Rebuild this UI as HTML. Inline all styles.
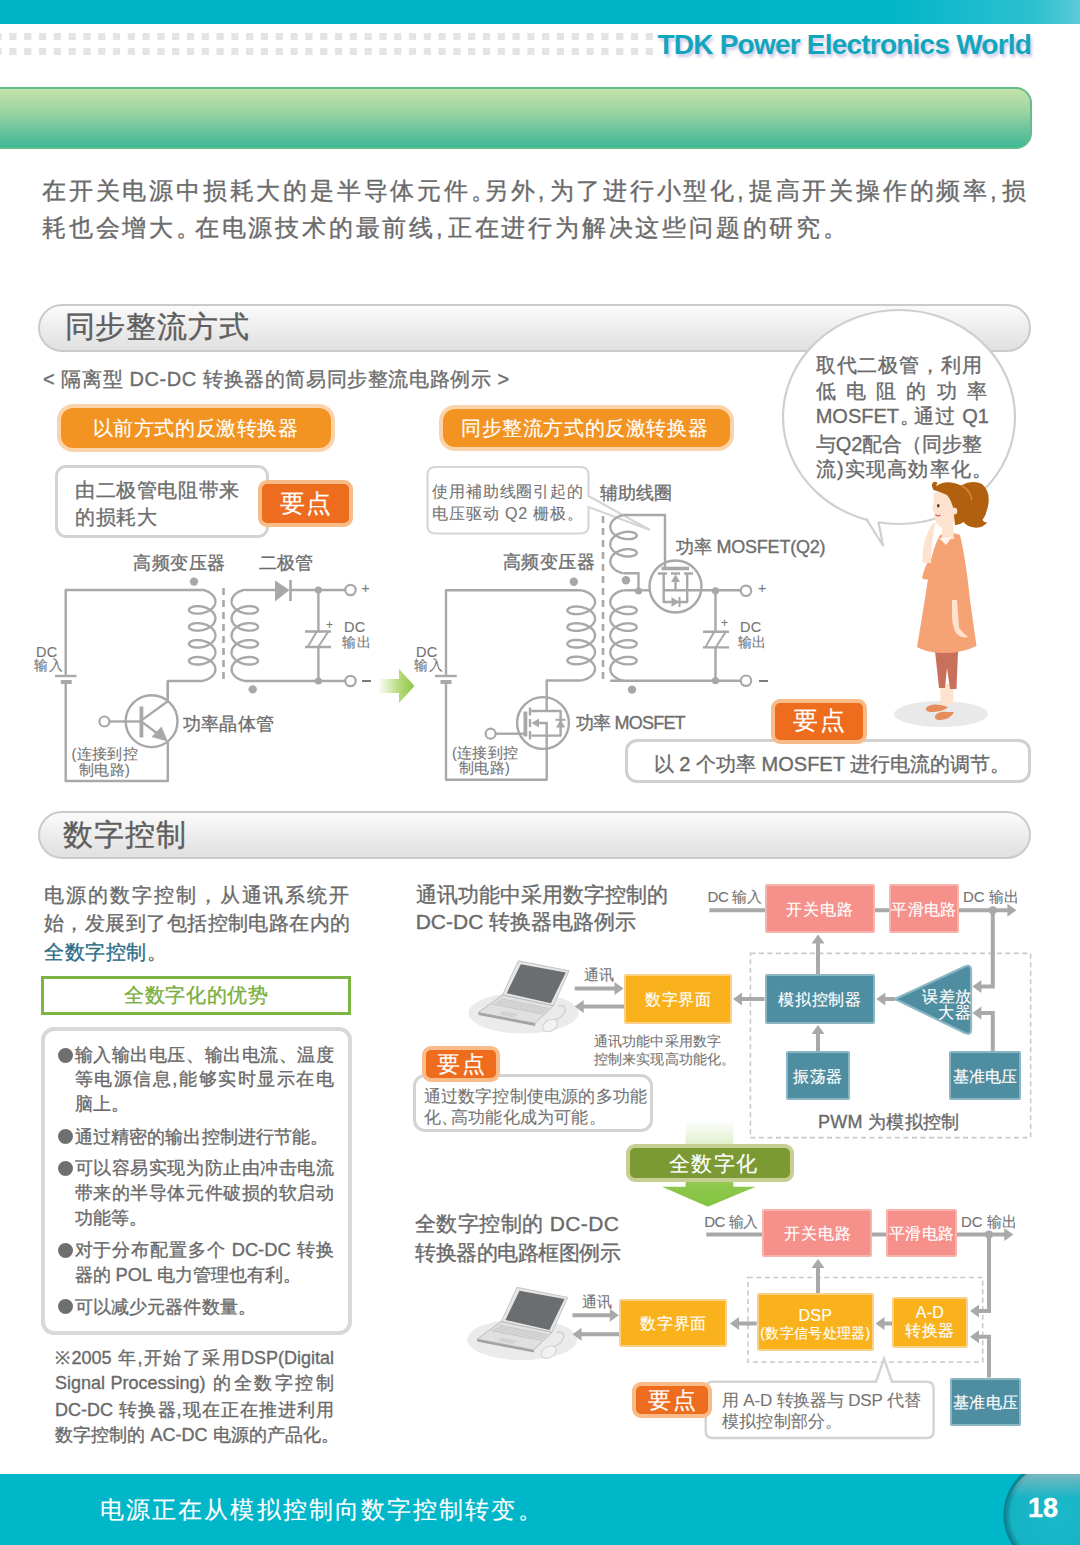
<!DOCTYPE html>
<html><head><meta charset="utf-8">
<style>
*{margin:0;padding:0;box-sizing:border-box}
html,body{width:1080px;height:1545px;overflow:hidden;background:#fff}
body{position:relative;font-family:"Liberation Sans",sans-serif;color:#707070}
.a{position:absolute;white-space:nowrap;-webkit-text-stroke:0.35px currentColor}
svg.ov{position:absolute;left:0;top:0}
</style></head><body>
<div class="a" style="left:0;top:0;width:1080px;height:24px;background:linear-gradient(90deg,#00b4c7 0%,#00b5c8 82%,#2fc0d0 96%,#5ccbd8 100%)"></div>
<svg class="ov" width="1080" height="1545"><rect x="-5.5" y="33" width="7.2" height="7" fill="#e4e4e4"/><rect x="9.3" y="33" width="7.2" height="7" fill="#e4e4e4"/><rect x="24.1" y="33" width="7.2" height="7" fill="#e4e4e4"/><rect x="38.9" y="33" width="7.2" height="7" fill="#e4e4e4"/><rect x="53.7" y="33" width="7.2" height="7" fill="#e4e4e4"/><rect x="68.5" y="33" width="7.2" height="7" fill="#e4e4e4"/><rect x="83.3" y="33" width="7.2" height="7" fill="#e4e4e4"/><rect x="98.1" y="33" width="7.2" height="7" fill="#e4e4e4"/><rect x="112.9" y="33" width="7.2" height="7" fill="#e4e4e4"/><rect x="127.7" y="33" width="7.2" height="7" fill="#e4e4e4"/><rect x="142.5" y="33" width="7.2" height="7" fill="#e4e4e4"/><rect x="157.3" y="33" width="7.2" height="7" fill="#e4e4e4"/><rect x="172.1" y="33" width="7.2" height="7" fill="#e4e4e4"/><rect x="186.9" y="33" width="7.2" height="7" fill="#e4e4e4"/><rect x="201.7" y="33" width="7.2" height="7" fill="#e4e4e4"/><rect x="216.5" y="33" width="7.2" height="7" fill="#e4e4e4"/><rect x="231.3" y="33" width="7.2" height="7" fill="#e4e4e4"/><rect x="246.1" y="33" width="7.2" height="7" fill="#e4e4e4"/><rect x="260.9" y="33" width="7.2" height="7" fill="#e4e4e4"/><rect x="275.7" y="33" width="7.2" height="7" fill="#e4e4e4"/><rect x="290.5" y="33" width="7.2" height="7" fill="#e4e4e4"/><rect x="305.3" y="33" width="7.2" height="7" fill="#e4e4e4"/><rect x="320.1" y="33" width="7.2" height="7" fill="#e4e4e4"/><rect x="334.9" y="33" width="7.2" height="7" fill="#e4e4e4"/><rect x="349.7" y="33" width="7.2" height="7" fill="#e4e4e4"/><rect x="364.5" y="33" width="7.2" height="7" fill="#e4e4e4"/><rect x="379.3" y="33" width="7.2" height="7" fill="#e4e4e4"/><rect x="394.1" y="33" width="7.2" height="7" fill="#e4e4e4"/><rect x="408.9" y="33" width="7.2" height="7" fill="#e4e4e4"/><rect x="423.7" y="33" width="7.2" height="7" fill="#e4e4e4"/><rect x="438.5" y="33" width="7.2" height="7" fill="#e4e4e4"/><rect x="453.3" y="33" width="7.2" height="7" fill="#e4e4e4"/><rect x="468.1" y="33" width="7.2" height="7" fill="#e4e4e4"/><rect x="482.9" y="33" width="7.2" height="7" fill="#e4e4e4"/><rect x="497.7" y="33" width="7.2" height="7" fill="#e4e4e4"/><rect x="512.5" y="33" width="7.2" height="7" fill="#e4e4e4"/><rect x="527.3" y="33" width="7.2" height="7" fill="#e4e4e4"/><rect x="542.1" y="33" width="7.2" height="7" fill="#e4e4e4"/><rect x="556.9" y="33" width="7.2" height="7" fill="#e4e4e4"/><rect x="571.7" y="33" width="7.2" height="7" fill="#e4e4e4"/><rect x="586.5" y="33" width="7.2" height="7" fill="#e4e4e4"/><rect x="601.3" y="33" width="7.2" height="7" fill="#e4e4e4"/><rect x="616.1" y="33" width="7.2" height="7" fill="#e4e4e4"/><rect x="630.9" y="33" width="7.2" height="7" fill="#e4e4e4"/><rect x="645.7" y="33" width="7.2" height="7" fill="#e4e4e4"/><rect x="-5.5" y="48" width="7.2" height="7" fill="#e4e4e4"/><rect x="9.3" y="48" width="7.2" height="7" fill="#e4e4e4"/><rect x="24.1" y="48" width="7.2" height="7" fill="#e4e4e4"/><rect x="38.9" y="48" width="7.2" height="7" fill="#e4e4e4"/><rect x="53.7" y="48" width="7.2" height="7" fill="#e4e4e4"/><rect x="68.5" y="48" width="7.2" height="7" fill="#e4e4e4"/><rect x="83.3" y="48" width="7.2" height="7" fill="#e4e4e4"/><rect x="98.1" y="48" width="7.2" height="7" fill="#e4e4e4"/><rect x="112.9" y="48" width="7.2" height="7" fill="#e4e4e4"/><rect x="127.7" y="48" width="7.2" height="7" fill="#e4e4e4"/><rect x="142.5" y="48" width="7.2" height="7" fill="#e4e4e4"/><rect x="157.3" y="48" width="7.2" height="7" fill="#e4e4e4"/><rect x="172.1" y="48" width="7.2" height="7" fill="#e4e4e4"/><rect x="186.9" y="48" width="7.2" height="7" fill="#e4e4e4"/><rect x="201.7" y="48" width="7.2" height="7" fill="#e4e4e4"/><rect x="216.5" y="48" width="7.2" height="7" fill="#e4e4e4"/><rect x="231.3" y="48" width="7.2" height="7" fill="#e4e4e4"/><rect x="246.1" y="48" width="7.2" height="7" fill="#e4e4e4"/><rect x="260.9" y="48" width="7.2" height="7" fill="#e4e4e4"/><rect x="275.7" y="48" width="7.2" height="7" fill="#e4e4e4"/><rect x="290.5" y="48" width="7.2" height="7" fill="#e4e4e4"/><rect x="305.3" y="48" width="7.2" height="7" fill="#e4e4e4"/><rect x="320.1" y="48" width="7.2" height="7" fill="#e4e4e4"/><rect x="334.9" y="48" width="7.2" height="7" fill="#e4e4e4"/><rect x="349.7" y="48" width="7.2" height="7" fill="#e4e4e4"/><rect x="364.5" y="48" width="7.2" height="7" fill="#e4e4e4"/><rect x="379.3" y="48" width="7.2" height="7" fill="#e4e4e4"/><rect x="394.1" y="48" width="7.2" height="7" fill="#e4e4e4"/><rect x="408.9" y="48" width="7.2" height="7" fill="#e4e4e4"/><rect x="423.7" y="48" width="7.2" height="7" fill="#e4e4e4"/><rect x="438.5" y="48" width="7.2" height="7" fill="#e4e4e4"/><rect x="453.3" y="48" width="7.2" height="7" fill="#e4e4e4"/><rect x="468.1" y="48" width="7.2" height="7" fill="#e4e4e4"/><rect x="482.9" y="48" width="7.2" height="7" fill="#e4e4e4"/><rect x="497.7" y="48" width="7.2" height="7" fill="#e4e4e4"/><rect x="512.5" y="48" width="7.2" height="7" fill="#e4e4e4"/><rect x="527.3" y="48" width="7.2" height="7" fill="#e4e4e4"/><rect x="542.1" y="48" width="7.2" height="7" fill="#e4e4e4"/><rect x="556.9" y="48" width="7.2" height="7" fill="#e4e4e4"/><rect x="571.7" y="48" width="7.2" height="7" fill="#e4e4e4"/><rect x="586.5" y="48" width="7.2" height="7" fill="#e4e4e4"/><rect x="601.3" y="48" width="7.2" height="7" fill="#e4e4e4"/><rect x="616.1" y="48" width="7.2" height="7" fill="#e4e4e4"/><rect x="630.9" y="48" width="7.2" height="7" fill="#e4e4e4"/><rect x="645.7" y="48" width="7.2" height="7" fill="#e4e4e4"/></svg>
<div class="a" style="left:657.5px;top:28.5px;font-size:28px;line-height:32px;letter-spacing:-0.78px;font-weight:bold;color:#12a6bd;-webkit-text-stroke:0;text-shadow:2px 3px 3px rgba(110,100,190,.35)">TDK Power Electronics World</div>
<div class="a" style="left:-20px;top:87px;width:1052px;height:62px;border-radius:0 16px 16px 0;border:2px solid #63bd8a;border-left:none;background:linear-gradient(180deg,#c4e3aa 0%,#9ad3a3 40%,#6cc49c 70%,#3fb996 100%)"></div>
<div class="a" style="left:42.0px;top:179.3px;font-size:24.0px;line-height:24.0px;color:#6b6b6b;letter-spacing:2.80px;">在开关电源中损耗大的是半导体元件<span style="margin-right:-13.5px">。</span>另外<span style="margin-right:2.3px">,</span>为了进行小型化<span style="margin-right:2.3px">,</span>提高开关操作的频率<span style="margin-right:2.3px">,</span>损</div>
<div class="a" style="left:42.0px;top:215.9px;font-size:24.0px;line-height:24.0px;color:#6b6b6b;letter-spacing:2.80px;">耗也会增大<span style="margin-right:-8px">。</span>在电源技术的最前线<span style="margin-right:2.3px">,</span>正在进行为解决这些问题的研究。</div>
<div class="a" style="left:38px;top:303.5px;width:993px;height:48.0px;border-radius:24px;border:2px solid #cbcbcb;background:linear-gradient(180deg,#fbfbfb 0%,#f1f1f1 35%,#e6e6e6 75%,#e1e1e1 100%)"></div>
<div class="a" style="left:64.5px;top:312.4px;font-size:30.0px;line-height:30.0px;color:#5e5e5e;letter-spacing:0.90px;">同步整流方式</div>
<div class="a" style="left:38px;top:810.5px;width:993px;height:48.0px;border-radius:24px;border:2px solid #cbcbcb;background:linear-gradient(180deg,#fbfbfb 0%,#f1f1f1 35%,#e6e6e6 75%,#e1e1e1 100%)"></div>
<div class="a" style="left:63.0px;top:819.5px;font-size:30.0px;line-height:30.0px;color:#5e5e5e;letter-spacing:0.90px;">数字控制</div>
<div class="a" style="left:0;top:1474px;width:1080px;height:71px;background:#00b6c9"></div>
<div class="a" style="left:100.0px;top:1497.9px;font-size:24.0px;line-height:24.0px;color:#ffffff;letter-spacing:2.10px;-webkit-text-stroke:0.15px currentColor;">电源正在从模拟控制向数字控制转变<span style="margin-right:-10px">。</span></div>
<svg class="ov" width="1080" height="1545"><defs><radialGradient id="pg" cx="0.5" cy="0.5" r="0.5"><stop offset="0" stop-color="#1ab8c9"/><stop offset="0.86" stop-color="#16b3c4"/><stop offset="0.93" stop-color="#0f95a4"/><stop offset="1" stop-color="#0b7a87"/></radialGradient><linearGradient id="pgt" x1="0" y1="0" x2="0" y2="1"><stop offset="0" stop-color="#9bb9bd" stop-opacity="0.75"/><stop offset="1" stop-color="#9bb9bd" stop-opacity="0"/></linearGradient></defs><circle cx="1058.5" cy="1515" r="55" fill="url(#pg)" clip-path="url(#botclip)"/><clipPath id="cclip"><circle cx="1058.5" cy="1515" r="52"/></clipPath><g clip-path="url(#botclip)"><rect x="1000" y="1474" width="80" height="24" fill="url(#pgt)" clip-path="url(#cclip)"/></g><clipPath id="botclip"><rect x="0" y="1474" width="1080" height="71"/></clipPath></svg>
<div class="a" style="left:1028px;top:1493px;font-size:27px;line-height:30px;font-weight:bold;color:#fff">18</div>
<div class="a" style="left:43.0px;top:368.5px;font-size:20.0px;line-height:20.0px;color:#6e6e6e;letter-spacing:0.60px;">&lt; 隔离型 DC-DC 转换器的简易同步整流电路例示 &gt;</div>
<div class="a" style="left:56.7px;top:404.0px;width:278.3px;height:47.7px;border-radius:16px;background:#f39322;border:4.5px solid #fbd3aa"></div>
<div class="a" style="left:92.7px;top:417.8px;font-size:20.0px;line-height:20.0px;color:#ffffff;letter-spacing:0.60px;-webkit-text-stroke:0.15px currentColor;">以前方式的反激转换器</div>
<div class="a" style="left:439.0px;top:404.8px;width:294.6px;height:46.7px;border-radius:16px;background:#f39322;border:4.5px solid #fbd3aa"></div>
<div class="a" style="left:461.0px;top:418.0px;font-size:20.0px;line-height:20.0px;color:#ffffff;letter-spacing:0.60px;-webkit-text-stroke:0.15px currentColor;">同步整流方式的反激转换器</div>
<div class="a" style="left:55.0px;top:465.0px;width:214.0px;height:73.0px;border-radius:11.0px;background:#fff;border:3.0px solid #d3d3d3"></div>
<div class="a" style="left:75.0px;top:479.9px;font-size:20.0px;line-height:20.0px;color:#6e6e6e;letter-spacing:0.60px;">由二极管电阻带来</div>
<div class="a" style="left:75.0px;top:506.6px;font-size:20.0px;line-height:20.0px;color:#6e6e6e;letter-spacing:0.60px;">的损耗大</div>
<div class="a" style="left:258.0px;top:480.0px;width:95.0px;height:46.7px;border-radius:9px;background:#ee6c1e;border:4px solid #f9bb88"></div>
<div class="a" style="left:258.0px;top:491.5px;width:95.0px;text-align:center;font-size:24.5px;line-height:24.5px;color:#ffffff;letter-spacing:1.50px;text-indent:1.50px;-webkit-text-stroke:0.15px currentColor;">要点</div>
<svg class="ov" width="1080" height="1545"><path d="M427.5 475 Q427.5 467 435.5 467 L580.5 467 Q588.5 467 588.5 475 L588.5 496 L650 530 L588.5 507 L588.5 525.5 Q588.5 533.5 580.5 533.5 L435.5 533.5 Q427.5 533.5 427.5 525.5 Z" fill="#fff" stroke="#d6d6d6" stroke-width="2.2"/></svg>
<div class="a" style="left:432.0px;top:483.9px;font-size:16.0px;line-height:16.0px;color:#747474;letter-spacing:0.90px;-webkit-text-stroke:0.1px currentColor;">使用補助线圈引起的</div>
<div class="a" style="left:432.0px;top:506.4px;font-size:16.0px;line-height:16.0px;color:#747474;letter-spacing:0.90px;-webkit-text-stroke:0.1px currentColor;">电压驱动 Q2 栅极。</div>
<div class="a" style="left:599.5px;top:485.2px;font-size:17.5px;line-height:17.5px;color:#6e6e6e;letter-spacing:0.20px;">辅助线圈</div>
<div class="a" style="left:133.0px;top:555.2px;font-size:17.5px;line-height:17.5px;color:#6e6e6e;letter-spacing:0.60px;">高频变压器</div>
<div class="a" style="left:258.6px;top:555.2px;font-size:17.5px;line-height:17.5px;color:#6e6e6e;letter-spacing:0.20px;">二极管</div>
<svg class="ov" width="1080" height="1545"><circle cx="194.0" cy="581.6" r="4.2" fill="#a8a8a8"/><circle cx="252.7" cy="689.4" r="4.2" fill="#a8a8a8"/><path d="M65.7 676 L65.7 590 L202.5 590" fill="none" stroke="#a8a8a8" stroke-width="2.40" stroke-linejoin="round" /><path d="M202.5 681 L167.8 681 L167.8 701" fill="none" stroke="#a8a8a8" stroke-width="2.40" stroke-linejoin="round" /><path d="M202.20 589.70 L202.95 589.86 L203.69 590.05 L204.43 590.27 L205.16 590.50 L205.88 590.76 L206.59 591.04 L207.29 591.35 L207.97 591.68 L208.63 592.02 L209.27 592.39 L209.89 592.78 L210.49 593.19 L211.05 593.62 L211.59 594.07 L212.10 594.53 L212.58 595.01 L213.02 595.50 L213.43 596.01 L213.81 596.53 L214.14 597.06 L214.44 597.60 L214.70 598.15 L214.92 598.71 L215.10 599.27 L215.24 599.84 L215.33 600.41 L215.39 600.99 L215.40 601.57 L215.37 602.14 L215.30 602.72 L215.18 603.29 L215.03 603.86 L214.83 604.42 L214.59 604.97 L214.31 605.52 L214.00 606.06 L213.65 606.58 L213.26 607.10 L212.83 607.60 L212.37 608.08 L211.88 608.56 L211.36 609.01 L210.80 609.45 L210.22 609.87 L209.62 610.27 L208.99 610.65 L208.34 611.01 L207.67 611.35 L206.98 611.67 L206.28 611.96 L205.56 612.24 L204.84 612.48 L204.10 612.71 L203.36 612.91 L202.61 613.09 L201.87 613.24 L201.12 613.37 L200.38 613.48 L199.65 613.56 L198.92 613.62 L198.20 613.66 L197.50 613.67 L196.81 613.66 L196.13 613.63 L195.48 613.57 L194.85 613.50 L194.24 613.41 L193.66 613.30 L193.10 613.16 L192.58 613.02 L192.08 612.85 L191.62 612.67 L191.19 612.48 L190.80 612.27 L190.44 612.05 L190.12 611.82 L189.84 611.58 L189.60 611.33 L189.39 611.07 L189.23 610.81 L189.11 610.55 L189.04 610.28 L189.00 610.01 L189.01 609.74 L189.06 609.47 L189.15 609.20 L189.28 608.93 L189.46 608.67 L189.67 608.42 L189.93 608.17 L190.22 607.94 L190.55 607.71 L190.92 607.49 L191.33 607.29 L191.77 607.10 L192.24 606.93 L192.75 606.77 L193.29 606.62 L193.85 606.50 L194.44 606.39 L195.06 606.31 L195.70 606.24 L196.36 606.19 L197.03 606.17 L197.73 606.17 L198.44 606.19 L199.16 606.23 L199.89 606.30 L200.63 606.39 L201.37 606.50 L202.12 606.64 L202.86 606.80 L203.61 606.99 L204.35 607.20 L205.08 607.43 L205.80 607.69 L206.51 607.97 L207.21 608.27 L207.90 608.59 L208.56 608.94 L209.20 609.31 L209.82 609.69 L210.42 610.10 L210.99 610.53 L211.53 610.97 L212.05 611.43 L212.53 611.91 L212.98 612.40 L213.39 612.91 L213.77 613.42 L214.11 613.95 L214.41 614.49 L214.67 615.04 L214.90 615.60 L215.08 616.16 L215.22 616.73 L215.32 617.31 L215.38 617.88 L215.40 618.46 L215.37 619.03 L215.31 619.61 L215.20 620.18 L215.04 620.75 L214.85 621.31 L214.62 621.87 L214.35 622.41 L214.04 622.95 L213.69 623.48 L213.30 624.00 L212.88 624.50 L212.42 624.99 L211.94 625.46 L211.42 625.92 L210.87 626.36 L210.29 626.78 L209.69 627.18 L209.06 627.57 L208.41 627.93 L207.75 628.27 L207.06 628.59 L206.36 628.89 L205.64 629.16 L204.92 629.41 L204.18 629.64 L203.44 629.85 L202.70 630.03 L201.95 630.18 L201.21 630.32 L200.46 630.42 L199.73 630.51 L199.00 630.57 L198.28 630.61 L197.57 630.62 L196.88 630.62 L196.21 630.59 L195.55 630.54 L194.92 630.47 L194.31 630.37 L193.72 630.26 L193.16 630.14 L192.63 629.99 L192.14 629.83 L191.67 629.65 L191.24 629.45 L190.84 629.25 L190.48 629.03 L190.15 628.80 L189.87 628.56 L189.62 628.31 L189.41 628.06 L189.25 627.80 L189.13 627.53 L189.04 627.26 L189.00 626.99 L189.01 626.72 L189.05 626.45 L189.14 626.18 L189.27 625.92 L189.44 625.66 L189.65 625.40 L189.90 625.16 L190.19 624.92 L190.51 624.69 L190.88 624.47 L191.28 624.27 L191.72 624.08 L192.19 623.90 L192.69 623.74 L193.22 623.59 L193.79 623.47 L194.37 623.36 L194.99 623.27 L195.62 623.20 L196.28 623.15 L196.96 623.13 L197.65 623.12 L198.36 623.14 L199.08 623.18 L199.81 623.24 L200.55 623.33 L201.29 623.44 L202.03 623.58 L202.78 623.74 L203.52 623.92 L204.26 624.13 L205.00 624.36 L205.72 624.61 L206.44 624.89 L207.14 625.19 L207.82 625.51 L208.49 625.86 L209.13 626.22 L209.76 626.61 L210.36 627.01 L210.93 627.44 L211.47 627.88 L211.99 628.34 L212.48 628.81 L212.93 629.30 L213.35 629.81 L213.73 630.32 L214.07 630.85 L214.38 631.39 L214.65 631.94 L214.88 632.49 L215.06 633.06 L215.21 633.63 L215.32 634.20 L215.38 634.77 L215.40 635.35 L215.38 635.93 L215.32 636.50 L215.21 637.07 L215.06 637.64 L214.88 638.21 L214.65 638.76 L214.38 639.31 L214.07 639.85 L213.73 640.38 L213.35 640.89 L212.93 641.40 L212.48 641.89 L211.99 642.36 L211.47 642.82 L210.93 643.26 L210.36 643.69 L209.76 644.09 L209.13 644.48 L208.49 644.84 L207.82 645.19 L207.14 645.51 L206.44 645.81 L205.72 646.09 L205.00 646.34 L204.26 646.57 L203.52 646.78 L202.78 646.96 L202.03 647.12 L201.29 647.26 L200.55 647.37 L199.81 647.46 L199.08 647.52 L198.36 647.56 L197.65 647.58 L196.96 647.57 L196.28 647.55 L195.62 647.50 L194.99 647.43 L194.37 647.34 L193.79 647.23 L193.22 647.11 L192.69 646.96 L192.19 646.80 L191.72 646.62 L191.28 646.43 L190.88 646.23 L190.51 646.01 L190.19 645.78 L189.90 645.54 L189.65 645.30 L189.44 645.04 L189.27 644.78 L189.14 644.52 L189.05 644.25 L189.01 643.98 L189.00 643.71 L189.04 643.44 L189.13 643.17 L189.25 642.90 L189.41 642.64 L189.62 642.39 L189.87 642.14 L190.15 641.90 L190.48 641.67 L190.84 641.45 L191.24 641.25 L191.67 641.05 L192.14 640.87 L192.63 640.71 L193.16 640.56 L193.72 640.44 L194.31 640.33 L194.92 640.23 L195.55 640.16 L196.21 640.11 L196.88 640.08 L197.57 640.08 L198.28 640.09 L199.00 640.13 L199.73 640.19 L200.46 640.28 L201.21 640.38 L201.95 640.52 L202.70 640.67 L203.44 640.85 L204.18 641.06 L204.92 641.29 L205.64 641.54 L206.36 641.81 L207.06 642.11 L207.75 642.43 L208.41 642.77 L209.06 643.13 L209.69 643.52 L210.29 643.92 L210.87 644.34 L211.42 644.78 L211.94 645.24 L212.42 645.71 L212.88 646.20 L213.30 646.70 L213.69 647.22 L214.04 647.75 L214.35 648.29 L214.62 648.83 L214.85 649.39 L215.04 649.95 L215.20 650.52 L215.31 651.09 L215.37 651.67 L215.40 652.24 L215.38 652.82 L215.32 653.39 L215.22 653.97 L215.08 654.54 L214.90 655.10 L214.67 655.66 L214.41 656.21 L214.11 656.75 L213.77 657.28 L213.39 657.79 L212.98 658.30 L212.53 658.79 L212.05 659.27 L211.53 659.73 L210.99 660.17 L210.42 660.60 L209.82 661.01 L209.20 661.39 L208.56 661.76 L207.90 662.11 L207.21 662.43 L206.51 662.73 L205.80 663.01 L205.08 663.27 L204.35 663.50 L203.61 663.71 L202.86 663.90 L202.12 664.06 L201.37 664.20 L200.63 664.31 L199.89 664.40 L199.16 664.47 L198.44 664.51 L197.73 664.53 L197.03 664.53 L196.36 664.51 L195.70 664.46 L195.06 664.39 L194.44 664.31 L193.85 664.20 L193.29 664.08 L192.75 663.93 L192.24 663.77 L191.77 663.60 L191.33 663.41 L190.92 663.21 L190.55 662.99 L190.22 662.76 L189.93 662.53 L189.67 662.28 L189.46 662.03 L189.28 661.77 L189.15 661.50 L189.06 661.23 L189.01 660.96 L189.00 660.69 L189.04 660.42 L189.11 660.15 L189.23 659.89 L189.39 659.63 L189.60 659.37 L189.84 659.12 L190.12 658.88 L190.44 658.65 L190.80 658.43 L191.19 658.22 L191.62 658.03 L192.08 657.85 L192.58 657.68 L193.10 657.54 L193.66 657.40 L194.24 657.29 L194.85 657.20 L195.48 657.13 L196.13 657.07 L196.81 657.04 L197.50 657.03 L198.20 657.04 L198.92 657.08 L199.65 657.14 L200.38 657.22 L201.12 657.33 L201.87 657.46 L202.61 657.61 L203.36 657.79 L204.10 657.99 L204.84 658.22 L205.56 658.46 L206.28 658.74 L206.98 659.03 L207.67 659.35 L208.34 659.69 L208.99 660.05 L209.62 660.43 L210.22 660.83 L210.80 661.25 L211.36 661.69 L211.88 662.14 L212.37 662.62 L212.83 663.10 L213.26 663.60 L213.65 664.12 L214.00 664.64 L214.31 665.18 L214.59 665.73 L214.83 666.28 L215.03 666.84 L215.18 667.41 L215.30 667.98 L215.37 668.56 L215.40 669.13 L215.39 669.71 L215.33 670.29 L215.24 670.86 L215.10 671.43 L214.92 671.99 L214.70 672.55 L214.44 673.10 L214.14 673.64 L213.81 674.17 L213.43 674.69 L213.02 675.20 L212.58 675.69 L212.10 676.17 L211.59 676.63 L211.05 677.08 L210.49 677.51 L209.89 677.92 L209.27 678.31 L208.63 678.68 L207.97 679.02 L207.29 679.35 L206.59 679.66 L205.88 679.94 L205.16 680.20 L204.43 680.43 L203.69 680.65 L202.95 680.84 L202.20 681.00" fill="none" stroke="#a8a8a8" stroke-width="2.40" stroke-linejoin="round" /><path d="M223.5 588 L223.5 681" fill="none" stroke="#a8a8a8" stroke-width="2.60" stroke-linejoin="round" stroke-dasharray="7 5"/><path d="M244.80 589.70 L244.05 589.86 L243.31 590.05 L242.57 590.27 L241.84 590.50 L241.12 590.76 L240.41 591.04 L239.71 591.35 L239.03 591.68 L238.37 592.02 L237.73 592.39 L237.11 592.78 L236.51 593.19 L235.95 593.62 L235.41 594.07 L234.90 594.53 L234.42 595.01 L233.98 595.50 L233.57 596.01 L233.19 596.53 L232.86 597.06 L232.56 597.60 L232.30 598.15 L232.08 598.71 L231.90 599.27 L231.76 599.84 L231.67 600.41 L231.61 600.99 L231.60 601.57 L231.63 602.14 L231.70 602.72 L231.82 603.29 L231.97 603.86 L232.17 604.42 L232.41 604.97 L232.69 605.52 L233.00 606.06 L233.35 606.58 L233.74 607.10 L234.17 607.60 L234.63 608.08 L235.12 608.56 L235.64 609.01 L236.20 609.45 L236.78 609.87 L237.38 610.27 L238.01 610.65 L238.66 611.01 L239.33 611.35 L240.02 611.67 L240.72 611.96 L241.44 612.24 L242.16 612.48 L242.90 612.71 L243.64 612.91 L244.39 613.09 L245.13 613.24 L245.88 613.37 L246.62 613.48 L247.35 613.56 L248.08 613.62 L248.80 613.66 L249.50 613.67 L250.19 613.66 L250.87 613.63 L251.52 613.57 L252.15 613.50 L252.76 613.41 L253.34 613.30 L253.90 613.16 L254.42 613.02 L254.92 612.85 L255.38 612.67 L255.81 612.48 L256.20 612.27 L256.56 612.05 L256.88 611.82 L257.16 611.58 L257.40 611.33 L257.61 611.07 L257.77 610.81 L257.89 610.55 L257.96 610.28 L258.00 610.01 L257.99 609.74 L257.94 609.47 L257.85 609.20 L257.72 608.93 L257.54 608.67 L257.33 608.42 L257.07 608.17 L256.78 607.94 L256.45 607.71 L256.08 607.49 L255.67 607.29 L255.23 607.10 L254.76 606.93 L254.25 606.77 L253.71 606.62 L253.15 606.50 L252.56 606.39 L251.94 606.31 L251.30 606.24 L250.64 606.19 L249.97 606.17 L249.27 606.17 L248.56 606.19 L247.84 606.23 L247.11 606.30 L246.37 606.39 L245.63 606.50 L244.88 606.64 L244.14 606.80 L243.39 606.99 L242.65 607.20 L241.92 607.43 L241.20 607.69 L240.49 607.97 L239.79 608.27 L239.10 608.59 L238.44 608.94 L237.80 609.31 L237.18 609.69 L236.58 610.10 L236.01 610.53 L235.47 610.97 L234.95 611.43 L234.47 611.91 L234.02 612.40 L233.61 612.91 L233.23 613.42 L232.89 613.95 L232.59 614.49 L232.33 615.04 L232.10 615.60 L231.92 616.16 L231.78 616.73 L231.68 617.31 L231.62 617.88 L231.60 618.46 L231.63 619.03 L231.69 619.61 L231.80 620.18 L231.96 620.75 L232.15 621.31 L232.38 621.87 L232.65 622.41 L232.96 622.95 L233.31 623.48 L233.70 624.00 L234.12 624.50 L234.58 624.99 L235.06 625.46 L235.58 625.92 L236.13 626.36 L236.71 626.78 L237.31 627.18 L237.94 627.57 L238.59 627.93 L239.25 628.27 L239.94 628.59 L240.64 628.89 L241.36 629.16 L242.08 629.41 L242.82 629.64 L243.56 629.85 L244.30 630.03 L245.05 630.18 L245.79 630.32 L246.54 630.42 L247.27 630.51 L248.00 630.57 L248.72 630.61 L249.43 630.62 L250.12 630.62 L250.79 630.59 L251.45 630.54 L252.08 630.47 L252.69 630.37 L253.28 630.26 L253.84 630.14 L254.37 629.99 L254.86 629.83 L255.33 629.65 L255.76 629.45 L256.16 629.25 L256.52 629.03 L256.85 628.80 L257.13 628.56 L257.38 628.31 L257.59 628.06 L257.75 627.80 L257.87 627.53 L257.96 627.26 L258.00 626.99 L257.99 626.72 L257.95 626.45 L257.86 626.18 L257.73 625.92 L257.56 625.66 L257.35 625.40 L257.10 625.16 L256.81 624.92 L256.49 624.69 L256.12 624.47 L255.72 624.27 L255.28 624.08 L254.81 623.90 L254.31 623.74 L253.78 623.59 L253.21 623.47 L252.63 623.36 L252.01 623.27 L251.38 623.20 L250.72 623.15 L250.04 623.13 L249.35 623.12 L248.64 623.14 L247.92 623.18 L247.19 623.24 L246.45 623.33 L245.71 623.44 L244.97 623.58 L244.22 623.74 L243.48 623.92 L242.74 624.13 L242.00 624.36 L241.28 624.61 L240.56 624.89 L239.86 625.19 L239.18 625.51 L238.51 625.86 L237.87 626.22 L237.24 626.61 L236.64 627.01 L236.07 627.44 L235.53 627.88 L235.01 628.34 L234.52 628.81 L234.07 629.30 L233.65 629.81 L233.27 630.32 L232.93 630.85 L232.62 631.39 L232.35 631.94 L232.12 632.49 L231.94 633.06 L231.79 633.63 L231.68 634.20 L231.62 634.77 L231.60 635.35 L231.62 635.93 L231.68 636.50 L231.79 637.07 L231.94 637.64 L232.12 638.21 L232.35 638.76 L232.62 639.31 L232.93 639.85 L233.27 640.38 L233.65 640.89 L234.07 641.40 L234.52 641.89 L235.01 642.36 L235.53 642.82 L236.07 643.26 L236.64 643.69 L237.24 644.09 L237.87 644.48 L238.51 644.84 L239.18 645.19 L239.86 645.51 L240.56 645.81 L241.28 646.09 L242.00 646.34 L242.74 646.57 L243.48 646.78 L244.22 646.96 L244.97 647.12 L245.71 647.26 L246.45 647.37 L247.19 647.46 L247.92 647.52 L248.64 647.56 L249.35 647.58 L250.04 647.57 L250.72 647.55 L251.38 647.50 L252.01 647.43 L252.63 647.34 L253.21 647.23 L253.78 647.11 L254.31 646.96 L254.81 646.80 L255.28 646.62 L255.72 646.43 L256.12 646.23 L256.49 646.01 L256.81 645.78 L257.10 645.54 L257.35 645.30 L257.56 645.04 L257.73 644.78 L257.86 644.52 L257.95 644.25 L257.99 643.98 L258.00 643.71 L257.96 643.44 L257.87 643.17 L257.75 642.90 L257.59 642.64 L257.38 642.39 L257.13 642.14 L256.85 641.90 L256.52 641.67 L256.16 641.45 L255.76 641.25 L255.33 641.05 L254.86 640.87 L254.37 640.71 L253.84 640.56 L253.28 640.44 L252.69 640.33 L252.08 640.23 L251.45 640.16 L250.79 640.11 L250.12 640.08 L249.43 640.08 L248.72 640.09 L248.00 640.13 L247.27 640.19 L246.54 640.28 L245.79 640.38 L245.05 640.52 L244.30 640.67 L243.56 640.85 L242.82 641.06 L242.08 641.29 L241.36 641.54 L240.64 641.81 L239.94 642.11 L239.25 642.43 L238.59 642.77 L237.94 643.13 L237.31 643.52 L236.71 643.92 L236.13 644.34 L235.58 644.78 L235.06 645.24 L234.58 645.71 L234.12 646.20 L233.70 646.70 L233.31 647.22 L232.96 647.75 L232.65 648.29 L232.38 648.83 L232.15 649.39 L231.96 649.95 L231.80 650.52 L231.69 651.09 L231.63 651.67 L231.60 652.24 L231.62 652.82 L231.68 653.39 L231.78 653.97 L231.92 654.54 L232.10 655.10 L232.33 655.66 L232.59 656.21 L232.89 656.75 L233.23 657.28 L233.61 657.79 L234.02 658.30 L234.47 658.79 L234.95 659.27 L235.47 659.73 L236.01 660.17 L236.58 660.60 L237.18 661.01 L237.80 661.39 L238.44 661.76 L239.10 662.11 L239.79 662.43 L240.49 662.73 L241.20 663.01 L241.92 663.27 L242.65 663.50 L243.39 663.71 L244.14 663.90 L244.88 664.06 L245.63 664.20 L246.37 664.31 L247.11 664.40 L247.84 664.47 L248.56 664.51 L249.27 664.53 L249.97 664.53 L250.64 664.51 L251.30 664.46 L251.94 664.39 L252.56 664.31 L253.15 664.20 L253.71 664.08 L254.25 663.93 L254.76 663.77 L255.23 663.60 L255.67 663.41 L256.08 663.21 L256.45 662.99 L256.78 662.76 L257.07 662.53 L257.33 662.28 L257.54 662.03 L257.72 661.77 L257.85 661.50 L257.94 661.23 L257.99 660.96 L258.00 660.69 L257.96 660.42 L257.89 660.15 L257.77 659.89 L257.61 659.63 L257.40 659.37 L257.16 659.12 L256.88 658.88 L256.56 658.65 L256.20 658.43 L255.81 658.22 L255.38 658.03 L254.92 657.85 L254.42 657.68 L253.90 657.54 L253.34 657.40 L252.76 657.29 L252.15 657.20 L251.52 657.13 L250.87 657.07 L250.19 657.04 L249.50 657.03 L248.80 657.04 L248.08 657.08 L247.35 657.14 L246.62 657.22 L245.88 657.33 L245.13 657.46 L244.39 657.61 L243.64 657.79 L242.90 657.99 L242.16 658.22 L241.44 658.46 L240.72 658.74 L240.02 659.03 L239.33 659.35 L238.66 659.69 L238.01 660.05 L237.38 660.43 L236.78 660.83 L236.20 661.25 L235.64 661.69 L235.12 662.14 L234.63 662.62 L234.17 663.10 L233.74 663.60 L233.35 664.12 L233.00 664.64 L232.69 665.18 L232.41 665.73 L232.17 666.28 L231.97 666.84 L231.82 667.41 L231.70 667.98 L231.63 668.56 L231.60 669.13 L231.61 669.71 L231.67 670.29 L231.76 670.86 L231.90 671.43 L232.08 671.99 L232.30 672.55 L232.56 673.10 L232.86 673.64 L233.19 674.17 L233.57 674.69 L233.98 675.20 L234.42 675.69 L234.90 676.17 L235.41 676.63 L235.95 677.08 L236.51 677.51 L237.11 677.92 L237.73 678.31 L238.37 678.68 L239.03 679.02 L239.71 679.35 L240.41 679.66 L241.12 679.94 L241.84 680.20 L242.57 680.43 L243.31 680.65 L244.05 680.84 L244.80 681.00" fill="none" stroke="#a8a8a8" stroke-width="2.40" stroke-linejoin="round" /><path d="M244.5 590 L275 590" fill="none" stroke="#a8a8a8" stroke-width="2.40" stroke-linejoin="round" /><path d="M290 590 L345.5 590" fill="none" stroke="#a8a8a8" stroke-width="2.40" stroke-linejoin="round" /><path d="M275 580.5 L289.5 590 L275 601.5 Z" fill="#a8a8a8"/><path d="M290.5 580 L290.5 601" fill="none" stroke="#a8a8a8" stroke-width="2.60" stroke-linejoin="round" /><circle cx="350.5" cy="590.0" r="5.2" fill="#fff" stroke="#a8a8a8" stroke-width="2.2"/><circle cx="350.5" cy="681.0" r="5.2" fill="#fff" stroke="#a8a8a8" stroke-width="2.2"/><path d="M244.5 681 L345.3 681" fill="none" stroke="#a8a8a8" stroke-width="2.40" stroke-linejoin="round" /><path d="M318.4 590 L318.4 631.5 M318.4 647 L318.4 681" fill="none" stroke="#a8a8a8" stroke-width="2.40" stroke-linejoin="round" /><path d="M305 631.5 L331 631.5 M305 647 L331 647" fill="none" stroke="#a8a8a8" stroke-width="2.40" stroke-linejoin="round" /><path d="M308 646.5 L316.5 632 M318.5 646.5 L328 632" fill="none" stroke="#a8a8a8" stroke-width="2.00" stroke-linejoin="round" /><circle cx="318.4" cy="590.0" r="3.6" fill="#a8a8a8"/><circle cx="318.4" cy="681.0" r="3.6" fill="#a8a8a8"/></svg>
<div class="a" style="left:326.0px;top:619.4px;font-size:12.0px;line-height:12.0px;color:#777;letter-spacing:0.00px;-webkit-text-stroke:0.1px currentColor;">+</div>
<div class="a" style="left:344.0px;top:620.2px;font-size:14.5px;line-height:14.5px;color:#747474;letter-spacing:0.30px;-webkit-text-stroke:0.1px currentColor;">DC</div>
<div class="a" style="left:342.0px;top:634.9px;font-size:14.0px;line-height:14.0px;color:#747474;letter-spacing:0.50px;-webkit-text-stroke:0.1px currentColor;">输出</div>
<div class="a" style="left:361.5px;top:581.3px;font-size:14.0px;line-height:14.0px;color:#777;letter-spacing:0.00px;-webkit-text-stroke:0.1px currentColor;">+</div>
<div class="a" style="left:361.5px;top:680.2px;width:9px;height:1.6px;background:#7a7a7a"></div>
<svg class="ov" width="1080" height="1545"><path d="M55 676 L76.5 676" fill="none" stroke="#a8a8a8" stroke-width="2.40" stroke-linejoin="round" /><path d="M60.8 682 L71.7 682" fill="none" stroke="#a8a8a8" stroke-width="4.00" stroke-linejoin="round" /></svg>
<div class="a" style="left:36.0px;top:645.2px;font-size:14.5px;line-height:14.5px;color:#747474;letter-spacing:0.30px;-webkit-text-stroke:0.1px currentColor;">DC</div>
<div class="a" style="left:34.0px;top:657.9px;font-size:14.0px;line-height:14.0px;color:#747474;letter-spacing:0.50px;-webkit-text-stroke:0.1px currentColor;">输入</div>
<svg class="ov" width="1080" height="1545"><circle cx="151.6" cy="721.2" r="25.9" fill="none" stroke="#a8a8a8" stroke-width="2.4"/><circle cx="104.4" cy="721.5" r="5.0" fill="#fff" stroke="#a8a8a8" stroke-width="2.2"/><path d="M109.5 721.5 L141 721.5" fill="none" stroke="#a8a8a8" stroke-width="2.40" stroke-linejoin="round" /><path d="M141.4 706.5 L141.4 737.5" fill="none" stroke="#a8a8a8" stroke-width="3.80" stroke-linejoin="round" /><path d="M142.8 719.4 L167.8 701.3 L167.8 681" fill="none" stroke="#a8a8a8" stroke-width="2.40" stroke-linejoin="round" /><path d="M142.8 722.6 L160 735.5" fill="none" stroke="#a8a8a8" stroke-width="2.40" stroke-linejoin="round" /><path d="M167.8 741.5 L151.5 737 L161.5 726.5 Z" fill="#a8a8a8"/><path d="M167.8 741 L167.8 781 L65.7 781 L65.7 682" fill="none" stroke="#a8a8a8" stroke-width="2.40" stroke-linejoin="round" /></svg>
<div class="a" style="left:182.6px;top:714.9px;font-size:18.0px;line-height:18.0px;color:#6e6e6e;letter-spacing:0.40px;">功率晶体管</div>
<div class="a" style="left:71.5px;top:747.2px;font-size:14.5px;line-height:14.5px;color:#747474;letter-spacing:0.30px;-webkit-text-stroke:0.1px currentColor;">(连接到控</div>
<div class="a" style="left:79.0px;top:762.7px;font-size:14.5px;line-height:14.5px;color:#747474;letter-spacing:0.30px;-webkit-text-stroke:0.1px currentColor;">制电路)</div>
<svg class="ov" width="1080" height="1545"><defs><linearGradient id="ga" x1="0" x2="1"><stop offset="0" stop-color="#ffffff"/><stop offset="0.55" stop-color="#b9dc84"/><stop offset="1" stop-color="#8cc63f"/></linearGradient></defs><path d="M378 679 L399 679 L399 669 L414.5 686 L399 703 L399 693 L378 693 Z" fill="url(#ga)"/></svg>
<div class="a" style="left:502.7px;top:553.7px;font-size:17.5px;line-height:17.5px;color:#6e6e6e;letter-spacing:0.60px;">高频变压器</div>
<div class="a" style="left:676.0px;top:538.4px;font-size:18.0px;line-height:18.0px;color:#6e6e6e;letter-spacing:-0.20px;">功率 MOSFET(Q2)</div>
<svg class="ov" width="1080" height="1545"><circle cx="573.8" cy="581.8" r="4.2" fill="#a8a8a8"/><circle cx="626.0" cy="580.2" r="4.2" fill="#a8a8a8"/><circle cx="632.0" cy="689.6" r="4.2" fill="#a8a8a8"/><path d="M446 676 L446 590.3 L581 590.3" fill="none" stroke="#a8a8a8" stroke-width="2.40" stroke-linejoin="round" /><path d="M581.20 590.30 L581.98 590.46 L582.76 590.65 L583.53 590.86 L584.29 591.09 L585.05 591.35 L585.79 591.63 L586.52 591.93 L587.23 592.26 L587.92 592.60 L588.59 592.97 L589.24 593.36 L589.86 593.77 L590.46 594.19 L591.02 594.64 L591.55 595.10 L592.05 595.57 L592.52 596.06 L592.94 596.57 L593.33 597.09 L593.69 597.61 L594.00 598.15 L594.27 598.70 L594.50 599.26 L594.69 599.82 L594.83 600.39 L594.93 600.96 L594.99 601.53 L595.00 602.11 L594.97 602.68 L594.89 603.25 L594.77 603.82 L594.61 604.39 L594.40 604.95 L594.15 605.50 L593.87 606.04 L593.54 606.58 L593.17 607.10 L592.76 607.61 L592.31 608.11 L591.83 608.60 L591.32 609.07 L590.77 609.52 L590.20 609.95 L589.59 610.37 L588.96 610.77 L588.30 611.15 L587.62 611.51 L586.92 611.84 L586.20 612.16 L585.46 612.45 L584.72 612.72 L583.96 612.97 L583.19 613.19 L582.41 613.39 L581.63 613.57 L580.85 613.72 L580.07 613.85 L579.30 613.95 L578.53 614.03 L577.77 614.09 L577.02 614.12 L576.28 614.13 L575.56 614.12 L574.86 614.09 L574.18 614.03 L573.52 613.96 L572.88 613.86 L572.27 613.75 L571.69 613.61 L571.14 613.46 L570.62 613.30 L570.14 613.11 L569.69 612.92 L569.28 612.71 L568.90 612.48 L568.57 612.25 L568.28 612.01 L568.02 611.76 L567.81 611.50 L567.64 611.24 L567.52 610.97 L567.44 610.70 L567.40 610.42 L567.41 610.15 L567.46 609.88 L567.56 609.61 L567.70 609.34 L567.88 609.08 L568.10 608.82 L568.37 608.58 L568.68 608.34 L569.02 608.11 L569.41 607.89 L569.84 607.68 L570.30 607.49 L570.79 607.31 L571.32 607.15 L571.88 607.01 L572.47 606.88 L573.09 606.77 L573.73 606.68 L574.40 606.61 L575.09 606.57 L575.80 606.54 L576.53 606.54 L577.27 606.55 L578.02 606.59 L578.78 606.66 L579.56 606.75 L580.33 606.86 L581.11 606.99 L581.89 607.15 L582.67 607.34 L583.44 607.55 L584.21 607.78 L584.97 608.03 L585.71 608.31 L586.44 608.61 L587.15 608.93 L587.85 609.28 L588.52 609.64 L589.17 610.03 L589.79 610.43 L590.39 610.86 L590.96 611.30 L591.49 611.76 L592.00 612.23 L592.47 612.72 L592.90 613.22 L593.29 613.74 L593.65 614.27 L593.97 614.80 L594.24 615.35 L594.48 615.91 L594.67 616.47 L594.82 617.03 L594.92 617.61 L594.98 618.18 L595.00 618.75 L594.97 619.33 L594.90 619.90 L594.79 620.47 L594.63 621.04 L594.43 621.60 L594.18 622.15 L593.90 622.69 L593.57 623.23 L593.21 623.75 L592.81 624.27 L592.36 624.77 L591.89 625.25 L591.38 625.73 L590.83 626.18 L590.26 626.62 L589.66 627.04 L589.03 627.44 L588.37 627.82 L587.70 628.18 L587.00 628.52 L586.28 628.84 L585.55 629.13 L584.80 629.41 L584.04 629.65 L583.27 629.88 L582.50 630.08 L581.72 630.26 L580.94 630.42 L580.16 630.55 L579.38 630.65 L578.61 630.74 L577.85 630.79 L577.10 630.83 L576.36 630.84 L575.64 630.83 L574.93 630.80 L574.25 630.75 L573.59 630.68 L572.95 630.58 L572.34 630.47 L571.75 630.34 L571.20 630.19 L570.68 630.03 L570.19 629.85 L569.74 629.65 L569.32 629.44 L568.94 629.22 L568.60 628.99 L568.31 628.75 L568.05 628.50 L567.83 628.24 L567.66 627.98 L567.53 627.71 L567.45 627.44 L567.40 627.17 L567.41 626.89 L567.45 626.62 L567.54 626.35 L567.68 626.08 L567.86 625.82 L568.08 625.56 L568.34 625.31 L568.64 625.07 L568.98 624.84 L569.37 624.62 L569.79 624.42 L570.24 624.22 L570.73 624.04 L571.26 623.88 L571.82 623.73 L572.40 623.61 L573.02 623.49 L573.66 623.40 L574.33 623.33 L575.01 623.28 L575.72 623.25 L576.44 623.25 L577.18 623.26 L577.94 623.30 L578.70 623.36 L579.47 623.45 L580.25 623.56 L581.03 623.69 L581.81 623.85 L582.58 624.03 L583.36 624.23 L584.13 624.46 L584.88 624.71 L585.63 624.99 L586.36 625.29 L587.08 625.61 L587.77 625.95 L588.45 626.31 L589.10 626.69 L589.73 627.10 L590.33 627.52 L590.90 627.96 L591.44 628.41 L591.94 628.89 L592.42 629.38 L592.85 629.88 L593.25 630.39 L593.61 630.92 L593.93 631.46 L594.21 632.00 L594.45 632.56 L594.65 633.12 L594.80 633.68 L594.91 634.25 L594.98 634.83 L595.00 635.40 L594.98 635.97 L594.91 636.55 L594.80 637.12 L594.65 637.68 L594.45 638.24 L594.21 638.80 L593.93 639.34 L593.61 639.88 L593.25 640.41 L592.85 640.92 L592.42 641.42 L591.94 641.91 L591.44 642.39 L590.90 642.84 L590.33 643.28 L589.73 643.70 L589.10 644.11 L588.45 644.49 L587.77 644.85 L587.08 645.19 L586.36 645.51 L585.63 645.81 L584.88 646.09 L584.13 646.34 L583.36 646.57 L582.58 646.77 L581.81 646.95 L581.03 647.11 L580.25 647.24 L579.47 647.35 L578.70 647.44 L577.94 647.50 L577.18 647.54 L576.44 647.55 L575.72 647.55 L575.01 647.52 L574.33 647.47 L573.66 647.40 L573.02 647.31 L572.40 647.19 L571.82 647.07 L571.26 646.92 L570.73 646.76 L570.24 646.58 L569.79 646.38 L569.37 646.18 L568.98 645.96 L568.64 645.73 L568.34 645.49 L568.08 645.24 L567.86 644.98 L567.68 644.72 L567.54 644.45 L567.45 644.18 L567.41 643.91 L567.40 643.63 L567.45 643.36 L567.53 643.09 L567.66 642.82 L567.83 642.56 L568.05 642.30 L568.31 642.05 L568.60 641.81 L568.94 641.58 L569.32 641.36 L569.74 641.15 L570.19 640.95 L570.68 640.77 L571.20 640.61 L571.75 640.46 L572.34 640.33 L572.95 640.22 L573.59 640.12 L574.25 640.05 L574.93 640.00 L575.64 639.97 L576.36 639.96 L577.10 639.97 L577.85 640.01 L578.61 640.06 L579.38 640.15 L580.16 640.25 L580.94 640.38 L581.72 640.54 L582.50 640.72 L583.27 640.92 L584.04 641.15 L584.80 641.39 L585.55 641.67 L586.28 641.96 L587.00 642.28 L587.70 642.62 L588.37 642.98 L589.03 643.36 L589.66 643.76 L590.26 644.18 L590.83 644.62 L591.38 645.07 L591.89 645.55 L592.36 646.03 L592.81 646.53 L593.21 647.05 L593.57 647.57 L593.90 648.11 L594.18 648.65 L594.43 649.20 L594.63 649.76 L594.79 650.33 L594.90 650.90 L594.97 651.47 L595.00 652.05 L594.98 652.62 L594.92 653.19 L594.82 653.77 L594.67 654.33 L594.48 654.89 L594.24 655.45 L593.97 656.00 L593.65 656.53 L593.29 657.06 L592.90 657.58 L592.47 658.08 L592.00 658.57 L591.49 659.04 L590.96 659.50 L590.39 659.94 L589.79 660.37 L589.17 660.77 L588.52 661.16 L587.85 661.52 L587.15 661.87 L586.44 662.19 L585.71 662.49 L584.97 662.77 L584.21 663.02 L583.44 663.25 L582.67 663.46 L581.89 663.65 L581.11 663.81 L580.33 663.94 L579.56 664.05 L578.78 664.14 L578.02 664.21 L577.27 664.25 L576.53 664.26 L575.80 664.26 L575.09 664.23 L574.40 664.19 L573.73 664.12 L573.09 664.03 L572.47 663.92 L571.88 663.79 L571.32 663.65 L570.79 663.49 L570.30 663.31 L569.84 663.12 L569.41 662.91 L569.02 662.69 L568.68 662.46 L568.37 662.22 L568.10 661.98 L567.88 661.72 L567.70 661.46 L567.56 661.19 L567.46 660.92 L567.41 660.65 L567.40 660.38 L567.44 660.10 L567.52 659.83 L567.64 659.56 L567.81 659.30 L568.02 659.04 L568.28 658.79 L568.57 658.55 L568.90 658.32 L569.28 658.09 L569.69 657.88 L570.14 657.69 L570.62 657.50 L571.14 657.34 L571.69 657.19 L572.27 657.05 L572.88 656.94 L573.52 656.84 L574.18 656.77 L574.86 656.71 L575.56 656.68 L576.28 656.67 L577.02 656.68 L577.77 656.71 L578.53 656.77 L579.30 656.85 L580.07 656.95 L580.85 657.08 L581.63 657.23 L582.41 657.41 L583.19 657.61 L583.96 657.83 L584.72 658.08 L585.46 658.35 L586.20 658.64 L586.92 658.96 L587.62 659.29 L588.30 659.65 L588.96 660.03 L589.59 660.43 L590.20 660.85 L590.77 661.28 L591.32 661.73 L591.83 662.20 L592.31 662.69 L592.76 663.19 L593.17 663.70 L593.54 664.22 L593.87 664.76 L594.15 665.30 L594.40 665.85 L594.61 666.41 L594.77 666.98 L594.89 667.55 L594.97 668.12 L595.00 668.69 L594.99 669.27 L594.93 669.84 L594.83 670.41 L594.69 670.98 L594.50 671.54 L594.27 672.10 L594.00 672.65 L593.69 673.19 L593.33 673.71 L592.94 674.23 L592.52 674.74 L592.05 675.23 L591.55 675.70 L591.02 676.16 L590.46 676.61 L589.86 677.03 L589.24 677.44 L588.59 677.83 L587.92 678.20 L587.23 678.54 L586.52 678.87 L585.79 679.17 L585.05 679.45 L584.29 679.71 L583.53 679.94 L582.76 680.15 L581.98 680.34 L581.20 680.50" fill="none" stroke="#a8a8a8" stroke-width="2.40" stroke-linejoin="round" /><path d="M581 680.5 L546.7 680.5 L546.7 711" fill="none" stroke="#a8a8a8" stroke-width="2.40" stroke-linejoin="round" /><path d="M603 516 L603 682" fill="none" stroke="#a8a8a8" stroke-width="2.60" stroke-linejoin="round" stroke-dasharray="7 5"/><path d="M623.50 515.00 L622.81 515.15 L622.12 515.33 L621.44 515.53 L620.76 515.74 L620.08 515.98 L619.42 516.23 L618.77 516.51 L618.13 516.80 L617.51 517.12 L616.90 517.45 L616.31 517.80 L615.74 518.16 L615.19 518.55 L614.67 518.95 L614.17 519.36 L613.69 519.79 L613.24 520.23 L612.82 520.69 L612.43 521.16 L612.07 521.64 L611.74 522.13 L611.44 522.62 L611.18 523.13 L610.95 523.65 L610.75 524.17 L610.59 524.69 L610.46 525.22 L610.37 525.76 L610.32 526.29 L610.30 526.83 L610.32 527.37 L610.37 527.90 L610.46 528.44 L610.59 528.97 L610.75 529.49 L610.95 530.01 L611.18 530.53 L611.44 531.04 L611.74 531.53 L612.07 532.02 L612.43 532.50 L612.82 532.97 L613.24 533.43 L613.69 533.87 L614.17 534.30 L614.67 534.71 L615.19 535.11 L615.74 535.50 L616.31 535.86 L616.90 536.21 L617.51 536.54 L618.13 536.86 L618.77 537.15 L619.42 537.43 L620.08 537.68 L620.76 537.92 L621.44 538.13 L622.12 538.33 L622.81 538.51 L623.50 538.66 L624.19 538.79 L624.88 538.91 L625.56 539.00 L626.24 539.07 L626.92 539.13 L627.58 539.16 L628.23 539.17 L628.87 539.17 L629.49 539.14 L630.10 539.10 L630.69 539.04 L631.26 538.96 L631.81 538.86 L632.33 538.75 L632.83 538.63 L633.31 538.49 L633.76 538.33 L634.18 538.17 L634.57 537.99 L634.93 537.80 L635.26 537.60 L635.56 537.39 L635.82 537.17 L636.05 536.94 L636.25 536.71 L636.41 536.47 L636.54 536.23 L636.63 535.99 L636.68 535.74 L636.70 535.49 L636.68 535.24 L636.63 534.99 L636.54 534.75 L636.41 534.51 L636.25 534.27 L636.05 534.04 L635.82 533.81 L635.56 533.59 L635.26 533.38 L634.93 533.18 L634.57 532.99 L634.18 532.81 L633.76 532.65 L633.31 532.49 L632.83 532.35 L632.33 532.23 L631.81 532.12 L631.26 532.02 L630.69 531.94 L630.10 531.88 L629.49 531.84 L628.87 531.81 L628.23 531.81 L627.58 531.82 L626.92 531.85 L626.24 531.91 L625.56 531.98 L624.88 532.07 L624.19 532.19 L623.50 532.32 L622.81 532.47 L622.12 532.65 L621.44 532.85 L620.76 533.06 L620.08 533.30 L619.42 533.55 L618.77 533.83 L618.13 534.12 L617.51 534.44 L616.90 534.77 L616.31 535.12 L615.74 535.48 L615.19 535.87 L614.67 536.27 L614.17 536.68 L613.69 537.11 L613.24 537.55 L612.82 538.01 L612.43 538.48 L612.07 538.96 L611.74 539.45 L611.44 539.94 L611.18 540.45 L610.95 540.97 L610.75 541.49 L610.59 542.01 L610.46 542.54 L610.37 543.08 L610.32 543.61 L610.30 544.15 L610.32 544.69 L610.37 545.22 L610.46 545.76 L610.59 546.29 L610.75 546.81 L610.95 547.33 L611.18 547.85 L611.44 548.36 L611.74 548.85 L612.07 549.34 L612.43 549.82 L612.82 550.29 L613.24 550.75 L613.69 551.19 L614.17 551.62 L614.67 552.03 L615.19 552.43 L615.74 552.82 L616.31 553.18 L616.90 553.53 L617.51 553.86 L618.13 554.18 L618.77 554.47 L619.42 554.75 L620.08 555.00 L620.76 555.24 L621.44 555.45 L622.12 555.65 L622.81 555.83 L623.50 555.98 L624.19 556.11 L624.88 556.23 L625.56 556.32 L626.24 556.39 L626.92 556.45 L627.58 556.48 L628.23 556.49 L628.87 556.49 L629.49 556.46 L630.10 556.42 L630.69 556.36 L631.26 556.28 L631.81 556.18 L632.33 556.07 L632.83 555.95 L633.31 555.81 L633.76 555.65 L634.18 555.49 L634.57 555.31 L634.93 555.12 L635.26 554.92 L635.56 554.71 L635.82 554.49 L636.05 554.26 L636.25 554.03 L636.41 553.79 L636.54 553.55 L636.63 553.31 L636.68 553.06 L636.70 552.81 L636.68 552.56 L636.63 552.31 L636.54 552.07 L636.41 551.83 L636.25 551.59 L636.05 551.36 L635.82 551.13 L635.56 550.91 L635.26 550.70 L634.93 550.50 L634.57 550.31 L634.18 550.13 L633.76 549.97 L633.31 549.81 L632.83 549.67 L632.33 549.55 L631.81 549.44 L631.26 549.34 L630.69 549.26 L630.10 549.20 L629.49 549.16 L628.87 549.13 L628.23 549.13 L627.58 549.14 L626.92 549.17 L626.24 549.23 L625.56 549.30 L624.88 549.39 L624.19 549.51 L623.50 549.64 L622.81 549.79 L622.12 549.97 L621.44 550.17 L620.76 550.38 L620.08 550.62 L619.42 550.87 L618.77 551.15 L618.13 551.44 L617.51 551.76 L616.90 552.09 L616.31 552.44 L615.74 552.80 L615.19 553.19 L614.67 553.59 L614.17 554.00 L613.69 554.43 L613.24 554.87 L612.82 555.33 L612.43 555.80 L612.07 556.28 L611.74 556.77 L611.44 557.26 L611.18 557.77 L610.95 558.29 L610.75 558.81 L610.59 559.33 L610.46 559.86 L610.37 560.40 L610.32 560.93 L610.30 561.47 L610.32 562.01 L610.37 562.54 L610.46 563.08 L610.59 563.61 L610.75 564.13 L610.95 564.65 L611.18 565.17 L611.44 565.68 L611.74 566.17 L612.07 566.66 L612.43 567.14 L612.82 567.61 L613.24 568.07 L613.69 568.51 L614.17 568.94 L614.67 569.35 L615.19 569.75 L615.74 570.14 L616.31 570.50 L616.90 570.85 L617.51 571.18 L618.13 571.50 L618.77 571.79 L619.42 572.07 L620.08 572.32 L620.76 572.56 L621.44 572.77 L622.12 572.97 L622.81 573.15 L623.50 573.30" fill="none" stroke="#a8a8a8" stroke-width="2.40" stroke-linejoin="round" /><path d="M623.5 515 L665 515 L665 568" fill="none" stroke="#a8a8a8" stroke-width="2.40" stroke-linejoin="round" /><path d="M623.5 573.3 L638.5 573.3 L638.5 591" fill="none" stroke="#a8a8a8" stroke-width="2.40" stroke-linejoin="round" /><path d="M623.50 590.30 L622.75 590.46 L622.01 590.65 L621.27 590.86 L620.54 591.09 L619.82 591.35 L619.11 591.63 L618.41 591.94 L617.73 592.26 L617.07 592.61 L616.43 592.98 L615.81 593.36 L615.21 593.77 L614.65 594.20 L614.11 594.64 L613.60 595.10 L613.12 595.58 L612.68 596.07 L612.27 596.58 L611.89 597.09 L611.56 597.62 L611.26 598.16 L611.00 598.71 L610.78 599.27 L610.60 599.83 L610.46 600.40 L610.37 600.97 L610.31 601.54 L610.30 602.12 L610.33 602.69 L610.40 603.26 L610.52 603.83 L610.67 604.40 L610.87 604.96 L611.11 605.51 L611.39 606.06 L611.70 606.59 L612.05 607.12 L612.44 607.63 L612.87 608.13 L613.33 608.61 L613.82 609.08 L614.34 609.54 L614.90 609.97 L615.48 610.39 L616.08 610.79 L616.71 611.17 L617.36 611.53 L618.03 611.86 L618.72 612.18 L619.42 612.47 L620.14 612.74 L620.86 612.99 L621.60 613.21 L622.34 613.41 L623.09 613.59 L623.83 613.74 L624.58 613.87 L625.32 613.97 L626.05 614.06 L626.78 614.11 L627.50 614.15 L628.20 614.16 L628.89 614.15 L629.57 614.11 L630.22 614.06 L630.85 613.98 L631.46 613.89 L632.04 613.77 L632.60 613.64 L633.12 613.49 L633.62 613.32 L634.08 613.14 L634.51 612.95 L634.90 612.74 L635.26 612.51 L635.58 612.28 L635.86 612.04 L636.10 611.79 L636.31 611.53 L636.47 611.27 L636.59 611.00 L636.66 610.73 L636.70 610.46 L636.69 610.18 L636.64 609.91 L636.55 609.64 L636.42 609.38 L636.24 609.11 L636.03 608.86 L635.77 608.61 L635.48 608.37 L635.15 608.14 L634.78 607.93 L634.37 607.72 L633.93 607.53 L633.46 607.35 L632.95 607.19 L632.41 607.05 L631.85 606.92 L631.26 606.81 L630.64 606.72 L630.00 606.66 L629.34 606.61 L628.67 606.58 L627.97 606.58 L627.26 606.60 L626.54 606.64 L625.81 606.70 L625.07 606.79 L624.33 606.90 L623.58 607.04 L622.84 607.20 L622.09 607.38 L621.35 607.59 L620.62 607.82 L619.90 608.08 L619.19 608.36 L618.49 608.66 L617.80 608.98 L617.14 609.32 L616.50 609.69 L615.88 610.08 L615.28 610.48 L614.71 610.90 L614.17 611.35 L613.65 611.81 L613.17 612.28 L612.72 612.77 L612.31 613.27 L611.93 613.79 L611.59 614.32 L611.29 614.86 L611.03 615.40 L610.80 615.96 L610.62 616.52 L610.48 617.09 L610.38 617.66 L610.32 618.23 L610.30 618.81 L610.33 619.38 L610.39 619.96 L610.50 620.53 L610.66 621.09 L610.85 621.65 L611.08 622.21 L611.35 622.75 L611.66 623.29 L612.01 623.81 L612.40 624.33 L612.82 624.83 L613.28 625.32 L613.76 625.79 L614.28 626.24 L614.83 626.68 L615.41 627.10 L616.01 627.50 L616.64 627.88 L617.29 628.24 L617.95 628.58 L618.64 628.90 L619.34 629.20 L620.06 629.47 L620.78 629.72 L621.52 629.95 L622.26 630.15 L623.00 630.33 L623.75 630.48 L624.49 630.61 L625.24 630.72 L625.97 630.80 L626.70 630.86 L627.42 630.90 L628.13 630.91 L628.82 630.90 L629.49 630.87 L630.15 630.82 L630.78 630.75 L631.39 630.65 L631.98 630.54 L632.54 630.41 L633.07 630.26 L633.56 630.10 L634.03 629.92 L634.46 629.72 L634.86 629.52 L635.22 629.30 L635.55 629.06 L635.83 628.82 L636.08 628.57 L636.29 628.32 L636.45 628.05 L636.57 627.79 L636.66 627.52 L636.70 627.24 L636.69 626.97 L636.65 626.70 L636.56 626.43 L636.43 626.16 L636.26 625.90 L636.05 625.64 L635.80 625.39 L635.51 625.15 L635.19 624.92 L634.82 624.70 L634.42 624.50 L633.98 624.31 L633.51 624.13 L633.01 623.96 L632.48 623.82 L631.91 623.69 L631.33 623.58 L630.71 623.49 L630.08 623.42 L629.42 623.37 L628.74 623.34 L628.05 623.33 L627.34 623.35 L626.62 623.39 L625.89 623.45 L625.15 623.54 L624.41 623.64 L623.67 623.78 L622.92 623.94 L622.18 624.12 L621.44 624.32 L620.70 624.55 L619.98 624.80 L619.26 625.08 L618.56 625.38 L617.88 625.70 L617.21 626.04 L616.57 626.40 L615.94 626.79 L615.34 627.19 L614.77 627.61 L614.23 628.05 L613.71 628.51 L613.22 628.98 L612.77 629.47 L612.35 629.97 L611.97 630.49 L611.63 631.02 L611.32 631.55 L611.05 632.10 L610.82 632.65 L610.64 633.21 L610.49 633.78 L610.38 634.35 L610.32 634.93 L610.30 635.50 L610.32 636.07 L610.38 636.65 L610.49 637.22 L610.64 637.79 L610.82 638.35 L611.05 638.90 L611.32 639.45 L611.63 639.98 L611.97 640.51 L612.35 641.03 L612.77 641.53 L613.22 642.02 L613.71 642.49 L614.23 642.95 L614.77 643.39 L615.34 643.81 L615.94 644.21 L616.57 644.60 L617.21 644.96 L617.88 645.30 L618.56 645.62 L619.26 645.92 L619.98 646.20 L620.70 646.45 L621.44 646.68 L622.18 646.88 L622.92 647.06 L623.67 647.22 L624.41 647.36 L625.15 647.46 L625.89 647.55 L626.62 647.61 L627.34 647.65 L628.05 647.67 L628.74 647.66 L629.42 647.63 L630.08 647.58 L630.71 647.51 L631.33 647.42 L631.91 647.31 L632.48 647.18 L633.01 647.04 L633.51 646.87 L633.98 646.69 L634.42 646.50 L634.82 646.30 L635.19 646.08 L635.51 645.85 L635.80 645.61 L636.05 645.36 L636.26 645.10 L636.43 644.84 L636.56 644.57 L636.65 644.30 L636.69 644.03 L636.70 643.76 L636.66 643.48 L636.57 643.21 L636.45 642.95 L636.29 642.68 L636.08 642.43 L635.83 642.18 L635.55 641.94 L635.22 641.70 L634.86 641.48 L634.46 641.28 L634.03 641.08 L633.56 640.90 L633.07 640.74 L632.54 640.59 L631.98 640.46 L631.39 640.35 L630.78 640.25 L630.15 640.18 L629.49 640.13 L628.82 640.10 L628.13 640.09 L627.42 640.10 L626.70 640.14 L625.97 640.20 L625.24 640.28 L624.49 640.39 L623.75 640.52 L623.00 640.67 L622.26 640.85 L621.52 641.05 L620.78 641.28 L620.06 641.53 L619.34 641.80 L618.64 642.10 L617.95 642.42 L617.29 642.76 L616.64 643.12 L616.01 643.50 L615.41 643.90 L614.83 644.32 L614.28 644.76 L613.76 645.21 L613.28 645.68 L612.82 646.17 L612.40 646.67 L612.01 647.19 L611.66 647.71 L611.35 648.25 L611.08 648.79 L610.85 649.35 L610.66 649.91 L610.50 650.47 L610.39 651.04 L610.33 651.62 L610.30 652.19 L610.32 652.77 L610.38 653.34 L610.48 653.91 L610.62 654.48 L610.80 655.04 L611.03 655.60 L611.29 656.14 L611.59 656.68 L611.93 657.21 L612.31 657.73 L612.72 658.23 L613.17 658.72 L613.65 659.19 L614.17 659.65 L614.71 660.10 L615.28 660.52 L615.88 660.92 L616.50 661.31 L617.14 661.68 L617.80 662.02 L618.49 662.34 L619.19 662.64 L619.90 662.92 L620.62 663.18 L621.35 663.41 L622.09 663.62 L622.84 663.80 L623.58 663.96 L624.33 664.10 L625.07 664.21 L625.81 664.30 L626.54 664.36 L627.26 664.40 L627.97 664.42 L628.67 664.42 L629.34 664.39 L630.00 664.34 L630.64 664.28 L631.26 664.19 L631.85 664.08 L632.41 663.95 L632.95 663.81 L633.46 663.65 L633.93 663.47 L634.37 663.28 L634.78 663.07 L635.15 662.86 L635.48 662.63 L635.77 662.39 L636.03 662.14 L636.24 661.89 L636.42 661.62 L636.55 661.36 L636.64 661.09 L636.69 660.82 L636.70 660.54 L636.66 660.27 L636.59 660.00 L636.47 659.73 L636.31 659.47 L636.10 659.21 L635.86 658.96 L635.58 658.72 L635.26 658.49 L634.90 658.26 L634.51 658.05 L634.08 657.86 L633.62 657.68 L633.12 657.51 L632.60 657.36 L632.04 657.23 L631.46 657.11 L630.85 657.02 L630.22 656.94 L629.57 656.89 L628.89 656.85 L628.20 656.84 L627.50 656.85 L626.78 656.89 L626.05 656.94 L625.32 657.03 L624.58 657.13 L623.83 657.26 L623.09 657.41 L622.34 657.59 L621.60 657.79 L620.86 658.01 L620.14 658.26 L619.42 658.53 L618.72 658.82 L618.03 659.14 L617.36 659.47 L616.71 659.83 L616.08 660.21 L615.48 660.61 L614.90 661.03 L614.34 661.46 L613.82 661.92 L613.33 662.39 L612.87 662.87 L612.44 663.37 L612.05 663.88 L611.70 664.41 L611.39 664.94 L611.11 665.49 L610.87 666.04 L610.67 666.60 L610.52 667.17 L610.40 667.74 L610.33 668.31 L610.30 668.88 L610.31 669.46 L610.37 670.03 L610.46 670.60 L610.60 671.17 L610.78 671.73 L611.00 672.29 L611.26 672.84 L611.56 673.38 L611.89 673.91 L612.27 674.42 L612.68 674.93 L613.12 675.42 L613.60 675.90 L614.11 676.36 L614.65 676.80 L615.21 677.23 L615.81 677.64 L616.43 678.02 L617.07 678.39 L617.73 678.74 L618.41 679.06 L619.11 679.37 L619.82 679.65 L620.54 679.91 L621.27 680.14 L622.01 680.35 L622.75 680.54 L623.50 680.70" fill="none" stroke="#a8a8a8" stroke-width="2.40" stroke-linejoin="round" /><path d="M623.5 590.3 L649.5 590.3" fill="none" stroke="#a8a8a8" stroke-width="2.40" stroke-linejoin="round" /><circle cx="675.5" cy="586.5" r="26" fill="none" stroke="#a8a8a8" stroke-width="2.4"/><path d="M661.5 568.5 L689 568.5" fill="none" stroke="#a8a8a8" stroke-width="3.60" stroke-linejoin="round" /><path d="M658 573.5 L667 573.5 M671 573.5 L680 573.5 M684 573.5 L693 573.5" fill="none" stroke="#a8a8a8" stroke-width="2.40" stroke-linejoin="round" /><path d="M663.7 573.5 L663.7 602 L687.2 602 L687.2 573.5" fill="none" stroke="#a8a8a8" stroke-width="2.40" stroke-linejoin="round" /><path d="M663.7 590.3 L741 590.3" fill="none" stroke="#a8a8a8" stroke-width="2.40" stroke-linejoin="round" /><path d="M675.5 590.3 L675.5 580" fill="none" stroke="#a8a8a8" stroke-width="2.40" stroke-linejoin="round" /><path d="M675.5 574.5 L671 582 L680 582 Z" fill="#a8a8a8"/><path d="M671.5 597 L679 602 L671.5 607 Z" fill="#a8a8a8"/><path d="M679.5 597 L679.5 607" fill="none" stroke="#a8a8a8" stroke-width="2.00" stroke-linejoin="round" /><circle cx="746.0" cy="590.8" r="5.2" fill="#fff" stroke="#a8a8a8" stroke-width="2.2"/><circle cx="746.0" cy="680.7" r="5.2" fill="#fff" stroke="#a8a8a8" stroke-width="2.2"/><path d="M610 680.7 L741 680.7" fill="none" stroke="#a8a8a8" stroke-width="2.40" stroke-linejoin="round" /><path d="M715.5 590.3 L715.5 631.7 M715.5 647.4 L715.5 680.7" fill="none" stroke="#a8a8a8" stroke-width="2.40" stroke-linejoin="round" /><path d="M703 631.7 L729 631.7 M703 647.4 L729 647.4" fill="none" stroke="#a8a8a8" stroke-width="2.40" stroke-linejoin="round" /><path d="M705.5 647 L714 632.2 M716 647 L725.5 632.2" fill="none" stroke="#a8a8a8" stroke-width="2.00" stroke-linejoin="round" /><circle cx="715.5" cy="590.8" r="3.6" fill="#a8a8a8"/><circle cx="715.5" cy="680.7" r="3.6" fill="#a8a8a8"/><circle cx="638.5" cy="591.0" r="3.6" fill="#a8a8a8"/></svg>
<div class="a" style="left:721.0px;top:617.4px;font-size:12.0px;line-height:12.0px;color:#777;letter-spacing:0.00px;-webkit-text-stroke:0.1px currentColor;">+</div>
<div class="a" style="left:740.0px;top:620.2px;font-size:14.5px;line-height:14.5px;color:#747474;letter-spacing:0.30px;-webkit-text-stroke:0.1px currentColor;">DC</div>
<div class="a" style="left:737.7px;top:634.9px;font-size:14.0px;line-height:14.0px;color:#747474;letter-spacing:0.50px;-webkit-text-stroke:0.1px currentColor;">输出</div>
<div class="a" style="left:758.0px;top:581.3px;font-size:14.0px;line-height:14.0px;color:#777;letter-spacing:0.00px;-webkit-text-stroke:0.1px currentColor;">+</div>
<div class="a" style="left:758.5px;top:680px;width:9.5px;height:1.6px;background:#7a7a7a"></div>
<svg class="ov" width="1080" height="1545"><path d="M435 676 L456.7 676" fill="none" stroke="#a8a8a8" stroke-width="2.40" stroke-linejoin="round" /><path d="M440.5 682 L451.5 682" fill="none" stroke="#a8a8a8" stroke-width="4.00" stroke-linejoin="round" /></svg>
<div class="a" style="left:416.0px;top:644.7px;font-size:14.5px;line-height:14.5px;color:#747474;letter-spacing:0.30px;-webkit-text-stroke:0.1px currentColor;">DC</div>
<div class="a" style="left:414.0px;top:657.9px;font-size:14.0px;line-height:14.0px;color:#747474;letter-spacing:0.50px;-webkit-text-stroke:0.1px currentColor;">输入</div>
<svg class="ov" width="1080" height="1545"><circle cx="543" cy="723" r="25.9" fill="none" stroke="#a8a8a8" stroke-width="2.4"/><path d="M531.4 711 L560.6 711 L560.6 735.6 L531.4 735.6" fill="none" stroke="#a8a8a8" stroke-width="2.40" stroke-linejoin="round" /><path d="M546.7 735.6 L546.7 723 L536 723" fill="none" stroke="#a8a8a8" stroke-width="2.40" stroke-linejoin="round" /><path d="M531.5 723 L539 718.5 L539 727.5 Z" fill="#a8a8a8"/><path d="M530 707.5 L530 715.5 M530 719 L530 727 M530 731 L530 739.5" fill="none" stroke="#a8a8a8" stroke-width="2.40" stroke-linejoin="round" /><path d="M525.4 711.5 L525.4 736.5" fill="none" stroke="#a8a8a8" stroke-width="3.80" stroke-linejoin="round" /><path d="M556 727.5 L560.6 719.8 L565.2 727.5 Z" fill="#a8a8a8"/><path d="M555.5 719.8 L565.5 719.8" fill="none" stroke="#a8a8a8" stroke-width="2.00" stroke-linejoin="round" /><circle cx="490.6" cy="733.7" r="5.0" fill="#fff" stroke="#a8a8a8" stroke-width="2.2"/><path d="M495.6 733.7 L525 733.7" fill="none" stroke="#a8a8a8" stroke-width="2.40" stroke-linejoin="round" /><path d="M546.7 735.6 L546.7 779.8 L446 779.8 L446 682" fill="none" stroke="#a8a8a8" stroke-width="2.40" stroke-linejoin="round" /></svg>
<div class="a" style="left:576.0px;top:714.4px;font-size:18.0px;line-height:18.0px;color:#6e6e6e;letter-spacing:-0.80px;">功率 MOSFET</div>
<div class="a" style="left:452.0px;top:745.7px;font-size:14.5px;line-height:14.5px;color:#747474;letter-spacing:0.30px;-webkit-text-stroke:0.1px currentColor;">(连接到控</div>
<div class="a" style="left:459.0px;top:761.2px;font-size:14.5px;line-height:14.5px;color:#747474;letter-spacing:0.30px;-webkit-text-stroke:0.1px currentColor;">制电路)</div>
<svg class="ov" width="1080" height="1545"><ellipse cx="899" cy="417" rx="116" ry="107" fill="#fff" stroke="#cfcfcf" stroke-width="2.2"/><path d="M867.5 518 L883 545.5 L878 520 Z" fill="#fff"/><path d="M866 518.5 L883 545.5 L878.5 522" fill="none" stroke="#cfcfcf" stroke-width="2.2" stroke-linejoin="round"/></svg>
<div class="a" style="left:815.7px;top:355.4px;width:166.3px;text-align:justify;text-align-last:justify;font-size:20.0px;line-height:20.0px;color:#6a6a6a;">取代二极管，利用</div>
<div class="a" style="left:815.7px;top:380.6px;width:171.3px;text-align:justify;text-align-last:justify;font-size:20.0px;line-height:20.0px;color:#6a6a6a;">低电阻的功率</div>
<div class="a" style="left:815.7px;top:405.9px;width:173.3px;text-align:justify;text-align-last:justify;font-size:20.0px;line-height:20.0px;color:#6a6a6a;">MOSFET<span style="margin-right:-8px">。</span>通过<span style="display:inline-block;width:6.0px"></span>Q1</div>
<div class="a" style="left:815.7px;top:433.9px;width:166.3px;text-align:justify;text-align-last:justify;font-size:20.0px;line-height:20.0px;color:#6a6a6a;">与Q2配合（同步整</div>
<div class="a" style="left:815.7px;top:458.9px;width:176.3px;text-align:justify;text-align-last:justify;font-size:20.0px;line-height:20.0px;color:#6a6a6a;">流)实现高効率化。</div>
<svg class="ov" width="1080" height="1545"><ellipse cx="941" cy="714" rx="47" ry="13" fill="#e9e9e9"/><path d="M940 684 L948 684 L947.5 709 L941 709 Z" fill="#fde3cf"/><path d="M946 684 L954 684 L953 704 L947 704 Z" fill="#fde3cf"/><path d="M935 651 L958 651 L956.5 689 L950 689 L947 668 L945 688 L939 688 Z" fill="#c9705c"/><path d="M926 708 Q930 703 941 705 L948 707 Q944 712 930 712 Q925 711 926 708 Z" fill="#e58d5b"/><path d="M935 716 Q938 711 947 712 L954 712 Q951 719 940 720 Q934 720 935 716 Z" fill="#e58d5b"/><path d="M940 535 Q950 531 960 535 Q966 560 970 600 L976.5 646 Q960 654 940 653 Q925 652 917 647 Q925 600 930 565 Q934 545 940 535 Z" fill="#f5a274"/><path d="M930 558 Q924 568 922 578 Q926 581 931 578 Q934 570 936 560 Z" fill="#f5a274"/><path d="M922.5 563 Q922 548 925.5 538 Q928 531 931 526 Q933.5 522 935.5 523 Q935.5 527 933.5 530 Q934 536 932 541 L931 563 Z" fill="#fde3cf"/><path d="M952 600 L957 600 L959 628 Q964 634 968 637 Q963 639 957 634 Q952 628 952 615 Z" fill="#fde3cf"/><path d="M942 522 L953 522 L954 539 L942 539 Z" fill="#fde3cf"/><path d="M934 493 Q944 490 952 497 L954.5 520 Q950 528 941 527.5 Q936.5 525 935.5 520 Q933.5 516 934.5 513 Q932.3 510.5 932.3 508.5 Q933 505 934 503 Q933 498 934 493 Z" fill="#fde3cf"/><path d="M939 538 L946 545 L952 537 Z" fill="#fff4ec"/><path d="M933.5 490 Q930.5 485 933 482.5 Q935.5 481 937.5 483 Q936 484.5 936.5 486 Q946 479 961 485.5 Q972 479.5 982 484 Q990 491 988.5 503 Q987 514 982.5 520 Q984.5 523.5 987.5 522 Q983 528.5 974 527.5 Q967 526.5 963.5 522 Q959 525.5 955 525 L953 507 Q950 498 947 495 Q941 492 933.5 490 Z" fill="#b0600f"/><path d="M962 486 Q970 490 972 500" fill="none" stroke="#d4853c" stroke-width="1.6"/><ellipse cx="954.5" cy="511" rx="2.8" ry="3.5" fill="#fde3cf"/><ellipse cx="938.3" cy="505.8" rx="1.2" ry="1.8" fill="#4a2e18"/><path d="M935.5 514.5 Q938 517 940.5 515" fill="none" stroke="#c8605a" stroke-width="1.1"/></svg>
<div class="a" style="left:625.0px;top:738.6px;width:406.0px;height:44.9px;border-radius:12.0px;background:#fff;border:3.0px solid #d0d0d0"></div>
<div class="a" style="left:653.8px;top:753.5px;font-size:20.0px;line-height:20.0px;color:#6a6a6a;letter-spacing:0.00px;">以 2 个功率 MOSFET 进行电流的调节。</div>
<div class="a" style="left:771.0px;top:698.8px;width:96.0px;height:44.9px;border-radius:9px;background:#ee6c1e;border:4px solid #f9bb88"></div>
<div class="a" style="left:771.0px;top:709.4px;width:96.0px;text-align:center;font-size:24.5px;line-height:24.5px;color:#ffffff;letter-spacing:1.50px;text-indent:1.50px;-webkit-text-stroke:0.15px currentColor;">要点</div>
<div class="a" style="left:44.0px;top:884.9px;font-size:20.0px;line-height:20.0px;color:#6a6a6a;letter-spacing:1.95px;">电源的数字控制，从通讯系统开</div>
<div class="a" style="left:44.0px;top:912.9px;font-size:20.0px;line-height:20.0px;color:#6a6a6a;letter-spacing:0.45px;">始，发展到了包括控制电路在内的</div>
<div class="a" style="left:44.0px;top:941.9px;font-size:20.0px;line-height:20.0px;color:#6a6a6a;letter-spacing:0.60px;"><span style="color:#2d6d88">全数字控制</span>。</div>
<div class="a" style="left:41px;top:976px;width:310px;height:39px;border:3px solid #7db544;background:#fff"></div>
<div class="a" style="left:41.0px;top:985.4px;width:310.0px;text-align:center;font-size:20.0px;line-height:20.0px;color:#7aaf3e;letter-spacing:0.70px;text-indent:0.70px;">全数字化的优势</div>
<div class="a" style="left:40.7px;top:1026.7px;width:311.0px;height:308.3px;border-radius:13.0px;background:#fff;border:4.0px solid #d8d8d8"></div>
<div class="a" style="left:58px;top:1047.5px;width:15px;height:15px;border-radius:50%;background:#6f6f6f"></div>
<div class="a" style="left:74.5px;top:1045.8px;width:259.5px;text-align:justify;text-align-last:justify;font-size:18.3px;line-height:18.3px;color:#6a6a6a;">输入输出电压、输出电流、温度</div>
<div class="a" style="left:74.5px;top:1070.1px;width:259.5px;text-align:justify;text-align-last:justify;font-size:18.3px;line-height:18.3px;color:#6a6a6a;">等电源信息,能够实时显示在电</div>
<div class="a" style="left:74.5px;top:1094.8px;font-size:18.3px;line-height:18.3px;color:#6a6a6a;letter-spacing:0.15px;">脑上。</div>
<div class="a" style="left:58px;top:1129.2px;width:15px;height:15px;border-radius:50%;background:#6f6f6f"></div>
<div class="a" style="left:74.5px;top:1127.5px;font-size:18.3px;line-height:18.3px;color:#6a6a6a;letter-spacing:0.15px;">通过精密的输出控制进行节能。</div>
<div class="a" style="left:58px;top:1160.8px;width:15px;height:15px;border-radius:50%;background:#6f6f6f"></div>
<div class="a" style="left:74.5px;top:1159.1px;width:259.5px;text-align:justify;text-align-last:justify;font-size:18.3px;line-height:18.3px;color:#6a6a6a;">可以容易实现为防止由冲击电流</div>
<div class="a" style="left:74.5px;top:1184.1px;width:259.5px;text-align:justify;text-align-last:justify;font-size:18.3px;line-height:18.3px;color:#6a6a6a;">带来的半导体元件破损的软启动</div>
<div class="a" style="left:74.5px;top:1209.1px;font-size:18.3px;line-height:18.3px;color:#6a6a6a;letter-spacing:0.15px;">功能等。</div>
<div class="a" style="left:58px;top:1242.5px;width:15px;height:15px;border-radius:50%;background:#6f6f6f"></div>
<div class="a" style="left:74.5px;top:1240.8px;width:259.5px;text-align:justify;text-align-last:justify;font-size:18.3px;line-height:18.3px;color:#6a6a6a;">对于分布配置多个<span style="display:inline-block;width:5.5px"></span>DC-DC<span style="display:inline-block;width:5.5px"></span>转换</div>
<div class="a" style="left:74.5px;top:1265.8px;font-size:18.3px;line-height:18.3px;color:#6a6a6a;letter-spacing:0.00px;">器的 POL 电力管理也有利。</div>
<div class="a" style="left:58px;top:1299.2px;width:15px;height:15px;border-radius:50%;background:#6f6f6f"></div>
<div class="a" style="left:74.5px;top:1297.5px;font-size:18.3px;line-height:18.3px;color:#6a6a6a;letter-spacing:0.15px;">可以减少元器件数量。</div>
<div class="a" style="left:55.0px;top:1348.9px;width:279.0px;text-align:justify;text-align-last:justify;font-size:18.0px;line-height:18.0px;color:#6a6a6a;">※2005<span style="display:inline-block;width:5.4px"></span>年,开始了采用DSP(Digital</div>
<div class="a" style="left:55.0px;top:1373.9px;width:279.0px;text-align:justify;text-align-last:justify;font-size:18.0px;line-height:18.0px;color:#6a6a6a;">Signal<span style="display:inline-block;width:5.4px"></span>Processing)<span style="display:inline-block;width:5.4px"></span>的全数字控制</div>
<div class="a" style="left:55.0px;top:1400.9px;width:279.0px;text-align:justify;text-align-last:justify;font-size:18.0px;line-height:18.0px;color:#6a6a6a;">DC-DC<span style="display:inline-block;width:5.4px"></span>转换器,现在正在推进利用</div>
<div class="a" style="left:55.0px;top:1425.9px;width:279.0px;text-align:justify;text-align-last:justify;font-size:18.0px;line-height:18.0px;color:#6a6a6a;">数字控制的<span style="display:inline-block;width:5.4px"></span>AC-DC<span style="display:inline-block;width:5.4px"></span>电源的产品化。</div>
<div class="a" style="left:415.7px;top:883.9px;font-size:21.0px;line-height:21.0px;color:#6a6a6a;letter-spacing:0.00px;">通讯功能中采用数字控制的</div>
<div class="a" style="left:415.7px;top:911.4px;font-size:21.0px;line-height:21.0px;color:#6a6a6a;letter-spacing:0.00px;">DC-DC 转换器电路例示</div>
<svg class="ov" width="1080" height="1545"><g transform="translate(0.0 0.0)"><ellipse cx="523.5" cy="1013" rx="55" ry="20.5" fill="#ebebeb"/><path d="M518.3 960.8 L569 970.8 L553.3 1005.8 L502.5 995 Z" fill="#e6e6e6" stroke="#c4c4c4" stroke-width="1"/><path d="M520.8 964.2 L565.8 972.5 L550.8 1003.3 L506.7 993.3 Z" fill="#6a6e71"/><path d="M502.5 995 L553.3 1005.8 L535 1023.3 L478.3 1012.5 Z" fill="#e0e0e0" stroke="#bcbcbc" stroke-width="1"/><path d="M478.3 1012.5 L535 1023.3 L535.5 1026 L478.5 1015 Z" fill="#a3a3a3"/><path d="M502 998.5 L549 1008 L542.5 1014.5 L492 1004.5 Z" fill="#c6c6c6"/><path d="M500.0 999.7 L547.7 1009.3" stroke="#e2e2e2" stroke-width="0.7"/><path d="M498.0 1000.9 L546.4 1010.6" stroke="#e2e2e2" stroke-width="0.7"/><path d="M496.0 1002.1 L545.1 1011.9" stroke="#e2e2e2" stroke-width="0.7"/><path d="M494.0 1003.3 L543.8 1013.2" stroke="#e2e2e2" stroke-width="0.7"/><path d="M503 1011 L518 1014 L514 1017.5 L499 1014.5 Z" fill="#d2d2d2"/><path d="M549 1021 Q563 1019 565 1011 Q566 1004 558 1006" fill="none" stroke="#d4d4d4" stroke-width="1.6"/><ellipse cx="550" cy="1025.5" rx="8" ry="5.5" fill="#f2f2f2" stroke="#d0d0d0" stroke-width="1" transform="rotate(-30 550 1025.5)"/></g></svg>
<div class="a" style="left:584.0px;top:967.7px;font-size:14.5px;line-height:14.5px;color:#747474;letter-spacing:0.00px;-webkit-text-stroke:0.1px currentColor;">通讯</div>
<svg class="ov" width="1080" height="1545"><path d="M574.7 988.5 L615.5 988.5" stroke="#a9a9a9" stroke-width="4.0"/><path d="M623.5 988.5 L614.5 995.0 L614.5 982.0 Z" fill="#a9a9a9"/><path d="M626.7 1006.4 L582.7 1006.4" stroke="#a9a9a9" stroke-width="4.0"/><path d="M574.7 1006.4 L583.7 999.9 L583.7 1012.9 Z" fill="#a9a9a9"/><rect x="750.4" y="953.4" width="280.2" height="184.2" fill="none" stroke="#c9c9c9" stroke-width="1.6" stroke-dasharray="5 3.5"/></svg>
<div class="a" style="left:707.5px;top:889.4px;font-size:15.0px;line-height:15.0px;color:#747474;letter-spacing:-0.40px;-webkit-text-stroke:0.1px currentColor;">DC 输入</div>
<div class="a" style="left:963.0px;top:889.4px;font-size:15.0px;line-height:15.0px;color:#747474;letter-spacing:0.00px;-webkit-text-stroke:0.1px currentColor;">DC 输出</div>
<svg class="ov" width="1080" height="1545"><path d="M709.4 910.3 L765 910.3 M874 910.3 L890 910.3" stroke="#a9a9a9" stroke-width="4"/><path d="M958.0 910.3 L1008.4 910.3" stroke="#a9a9a9" stroke-width="4.0"/><path d="M1016.4 910.3 L1007.4 916.8 L1007.4 903.8 Z" fill="#a9a9a9"/><circle cx="992.8" cy="910.3" r="4.0" fill="#a9a9a9"/><path d="M992.8 910.3 L992.8 986.5 L980.4 986.5" fill="none" stroke="#a9a9a9" stroke-width="4.0" stroke-linejoin="miter"/><path d="M972.4 986.5 L981.4 980.0 L981.4 993.0 Z" fill="#a9a9a9"/><path d="M992.8 1051.0 L992.8 1013.0 L980.4 1013.0" fill="none" stroke="#a9a9a9" stroke-width="4.0" stroke-linejoin="miter"/><path d="M972.4 1013.0 L981.4 1006.5 L981.4 1019.5 Z" fill="#a9a9a9"/><path d="M895.0 999.0 L884.3 999.0" stroke="#a9a9a9" stroke-width="4.0"/><path d="M876.3 999.0 L885.3 992.5 L885.3 1005.5 Z" fill="#a9a9a9"/><path d="M818.0 974.0 L818.0 942.5" stroke="#a9a9a9" stroke-width="4.0"/><path d="M818.0 934.5 L824.5 943.5 L811.5 943.5 Z" fill="#a9a9a9"/><path d="M764.5 999.0 L741.0 999.0" stroke="#a9a9a9" stroke-width="4.0"/><path d="M733.0 999.0 L742.0 992.5 L742.0 1005.5 Z" fill="#a9a9a9"/><path d="M818.0 1051.0 L818.0 1033.0" stroke="#a9a9a9" stroke-width="4.0"/><path d="M818.0 1025.0 L824.5 1034.0 L811.5 1034.0 Z" fill="#a9a9a9"/></svg>
<div class="a" style="left:624.0px;top:974.0px;width:108.0px;height:49.7px;background:#f9b21c;border:2.5px solid #fbd088;border-radius:2px"></div>
<div class="a" style="left:624.0px;top:992.0px;width:108.0px;text-align:center;font-size:15.5px;line-height:15.5px;color:#ffffff;letter-spacing:0.80px;text-indent:0.80px;-webkit-text-stroke:0.15px currentColor;">数字界面</div>
<div class="a" style="left:764.5px;top:884.0px;width:110.2px;height:49.0px;background:#f5908a;border:2.5px solid #f8b4ac;border-radius:2px"></div>
<div class="a" style="left:764.5px;top:901.7px;width:110.2px;text-align:center;font-size:15.5px;line-height:15.5px;color:#ffffff;letter-spacing:0.80px;text-indent:0.80px;-webkit-text-stroke:0.15px currentColor;">开关电路</div>
<div class="a" style="left:889.0px;top:884.0px;width:69.8px;height:49.0px;background:#f5908a;border:2.5px solid #f8b4ac;border-radius:2px"></div>
<div class="a" style="left:889.0px;top:901.7px;width:69.8px;text-align:center;font-size:15.5px;line-height:15.5px;color:#ffffff;letter-spacing:0.40px;text-indent:0.40px;-webkit-text-stroke:0.15px currentColor;">平滑电路</div>
<div class="a" style="left:764.5px;top:974.0px;width:110.2px;height:50.0px;background:#4f8da1;border:2.5px solid #8ab6c4;border-radius:2px"></div>
<div class="a" style="left:764.5px;top:992.2px;width:110.2px;text-align:center;font-size:15.5px;line-height:15.5px;color:#ffffff;letter-spacing:0.80px;text-indent:0.80px;-webkit-text-stroke:0.15px currentColor;">模拟控制器</div>
<div class="a" style="left:785.6px;top:1051.0px;width:64.0px;height:49.0px;background:#4f8da1;border:2.5px solid #8ab6c4;border-radius:2px"></div>
<div class="a" style="left:785.6px;top:1068.7px;width:64.0px;text-align:center;font-size:15.5px;line-height:15.5px;color:#ffffff;letter-spacing:0.80px;text-indent:0.80px;-webkit-text-stroke:0.15px currentColor;">振荡器</div>
<div class="a" style="left:949.4px;top:1051.0px;width:71.6px;height:49.0px;background:#4f8da1;border:2.5px solid #8ab6c4;border-radius:2px"></div>
<div class="a" style="left:949.4px;top:1068.7px;width:71.6px;text-align:center;font-size:15.5px;line-height:15.5px;color:#ffffff;letter-spacing:0.20px;text-indent:0.20px;-webkit-text-stroke:0.15px currentColor;">基准电压</div>
<svg class="ov" width="1080" height="1545"><path d="M895 999 L965 966.5 Q971 964 971 970 L971 1029.5 Q971 1035.5 965 1033 Z" fill="#4f8da1" stroke="#8ab6c4" stroke-width="2.2" stroke-linejoin="round"/></svg>
<div class="a" style="left:922.0px;top:988.9px;font-size:16.0px;line-height:16.0px;color:#ffffff;letter-spacing:0.50px;-webkit-text-stroke:0.15px currentColor;">误差放</div>
<div class="a" style="left:938.0px;top:1004.9px;font-size:16.0px;line-height:16.0px;color:#ffffff;letter-spacing:0.50px;-webkit-text-stroke:0.15px currentColor;">大器</div>
<div class="a" style="left:818.0px;top:1112.9px;font-size:18.0px;line-height:18.0px;color:#6a6a6a;letter-spacing:0.30px;">PWM 为模拟控制</div>
<div class="a" style="left:593.6px;top:1033.9px;font-size:14.0px;line-height:14.0px;color:#747474;letter-spacing:0.20px;-webkit-text-stroke:0.1px currentColor;">通讯功能中采用数字</div>
<div class="a" style="left:593.6px;top:1051.9px;font-size:14.0px;line-height:14.0px;color:#747474;letter-spacing:0.20px;-webkit-text-stroke:0.1px currentColor;">控制来实现高功能化。</div>
<div class="a" style="left:412.6px;top:1074.0px;width:240.9px;height:58.4px;border-radius:12.0px;background:#fff;border:3.0px solid #d3d3d3"></div>
<div class="a" style="left:423.6px;top:1088.2px;font-size:17.0px;line-height:17.0px;color:#747474;letter-spacing:0.20px;-webkit-text-stroke:0.1px currentColor;">通过数字控制使电源的多功能</div>
<div class="a" style="left:423.6px;top:1109.4px;font-size:17.0px;line-height:17.0px;color:#747474;letter-spacing:0.20px;-webkit-text-stroke:0.1px currentColor;">化<span style="margin-right:-7px">、</span>高功能化成为可能。</div>
<div class="a" style="left:422.0px;top:1045.8px;width:78.0px;height:36.2px;border-radius:9px;background:#ee6c1e;border:4px solid #f9bb88"></div>
<div class="a" style="left:422.0px;top:1052.8px;width:78.0px;text-align:center;font-size:23.0px;line-height:23.0px;color:#ffffff;letter-spacing:1.50px;text-indent:1.50px;-webkit-text-stroke:0.15px currentColor;">要点</div>
<svg class="ov" width="1080" height="1545"><defs><linearGradient id="gd" x1="0" y1="0" x2="0" y2="1"><stop offset="0" stop-color="#ffffff"/><stop offset="0.4" stop-color="#d3eab8"/><stop offset="0.75" stop-color="#8dc84c"/><stop offset="1" stop-color="#84c441"/></linearGradient></defs><path d="M685.6 1120 L733.3 1120 L733.3 1186.7 L755.6 1186.7 L707.8 1206.7 L662 1186.7 L685.6 1186.7 Z" fill="url(#gd)"/></svg>
<div class="a" style="left:625.6px;top:1144.4px;width:168.8px;height:37.8px;border-radius:9px;background:#7b9a33;border:4.5px solid #c8cf94"></div>
<div class="a" style="left:628.6px;top:1152.7px;width:168.8px;text-align:center;font-size:21.0px;line-height:21.0px;color:#ffffff;letter-spacing:1.50px;text-indent:1.50px;-webkit-text-stroke:0.15px currentColor;">全数字化</div>
<div class="a" style="left:415.0px;top:1213.4px;font-size:21.0px;line-height:21.0px;color:#6a6a6a;letter-spacing:0.40px;">全数字控制的 DC-DC</div>
<div class="a" style="left:415.0px;top:1242.4px;font-size:21.0px;line-height:21.0px;color:#6a6a6a;letter-spacing:-0.45px;">转换器的电路框图例示</div>
<svg class="ov" width="1080" height="1545"><g transform="translate(-1.3 326.6)"><ellipse cx="523.5" cy="1013" rx="55" ry="20.5" fill="#ebebeb"/><path d="M518.3 960.8 L569 970.8 L553.3 1005.8 L502.5 995 Z" fill="#e6e6e6" stroke="#c4c4c4" stroke-width="1"/><path d="M520.8 964.2 L565.8 972.5 L550.8 1003.3 L506.7 993.3 Z" fill="#6a6e71"/><path d="M502.5 995 L553.3 1005.8 L535 1023.3 L478.3 1012.5 Z" fill="#e0e0e0" stroke="#bcbcbc" stroke-width="1"/><path d="M478.3 1012.5 L535 1023.3 L535.5 1026 L478.5 1015 Z" fill="#a3a3a3"/><path d="M502 998.5 L549 1008 L542.5 1014.5 L492 1004.5 Z" fill="#c6c6c6"/><path d="M500.0 999.7 L547.7 1009.3" stroke="#e2e2e2" stroke-width="0.7"/><path d="M498.0 1000.9 L546.4 1010.6" stroke="#e2e2e2" stroke-width="0.7"/><path d="M496.0 1002.1 L545.1 1011.9" stroke="#e2e2e2" stroke-width="0.7"/><path d="M494.0 1003.3 L543.8 1013.2" stroke="#e2e2e2" stroke-width="0.7"/><path d="M503 1011 L518 1014 L514 1017.5 L499 1014.5 Z" fill="#d2d2d2"/><path d="M549 1021 Q563 1019 565 1011 Q566 1004 558 1006" fill="none" stroke="#d4d4d4" stroke-width="1.6"/><ellipse cx="550" cy="1025.5" rx="8" ry="5.5" fill="#f2f2f2" stroke="#d0d0d0" stroke-width="1" transform="rotate(-30 550 1025.5)"/></g></svg>
<div class="a" style="left:582.0px;top:1294.7px;font-size:14.5px;line-height:14.5px;color:#747474;letter-spacing:0.00px;-webkit-text-stroke:0.1px currentColor;">通讯</div>
<svg class="ov" width="1080" height="1545"><path d="M572.5 1315.3 L610.8 1315.3" stroke="#a9a9a9" stroke-width="4.0"/><path d="M618.8 1315.3 L609.8 1321.8 L609.8 1308.8 Z" fill="#a9a9a9"/><path d="M621.0 1334.2 L580.5 1334.2" stroke="#a9a9a9" stroke-width="4.0"/><path d="M572.5 1334.2 L581.5 1327.7 L581.5 1340.7 Z" fill="#a9a9a9"/><rect x="747.9" y="1277.5" width="234.8" height="84.5" fill="none" stroke="#c9c9c9" stroke-width="1.6" stroke-dasharray="5 3.5"/></svg>
<div class="a" style="left:704.2px;top:1214.1px;font-size:15.0px;line-height:15.0px;color:#747474;letter-spacing:-0.40px;-webkit-text-stroke:0.1px currentColor;">DC 输入</div>
<div class="a" style="left:961.0px;top:1214.1px;font-size:15.0px;line-height:15.0px;color:#747474;letter-spacing:0.00px;-webkit-text-stroke:0.1px currentColor;">DC 输出</div>
<svg class="ov" width="1080" height="1545"><path d="M706.3 1234.4 L763 1234.4 M872 1234.4 L888 1234.4" stroke="#a9a9a9" stroke-width="4"/><path d="M956.0 1234.4 L1005.3 1234.4" stroke="#a9a9a9" stroke-width="4.0"/><path d="M1013.3 1234.4 L1004.3 1240.9 L1004.3 1227.9 Z" fill="#a9a9a9"/><circle cx="989.0" cy="1234.4" r="4.0" fill="#a9a9a9"/><path d="M989.0 1234.4 L989.0 1311.0 L978.0 1311.0" fill="none" stroke="#a9a9a9" stroke-width="4.0" stroke-linejoin="miter"/><path d="M970.0 1311.0 L979.0 1304.5 L979.0 1317.5 Z" fill="#a9a9a9"/><path d="M989.0 1377.6 L989.0 1336.7 L978.0 1336.7" fill="none" stroke="#a9a9a9" stroke-width="4.0" stroke-linejoin="miter"/><path d="M970.0 1336.7 L979.0 1330.2 L979.0 1343.2 Z" fill="#a9a9a9"/><path d="M818.0 1293.0 L818.0 1267.0" stroke="#a9a9a9" stroke-width="4.0"/><path d="M818.0 1259.0 L824.5 1268.0 L811.5 1268.0 Z" fill="#a9a9a9"/><path d="M756.7 1323.5 L738.0 1323.5" stroke="#a9a9a9" stroke-width="4.0"/><path d="M730.0 1323.5 L739.0 1317.0 L739.0 1330.0 Z" fill="#a9a9a9"/><path d="M892.0 1323.5 L883.5 1323.5" stroke="#a9a9a9" stroke-width="4.0"/><path d="M875.5 1323.5 L884.5 1317.0 L884.5 1330.0 Z" fill="#a9a9a9"/></svg>
<div class="a" style="left:618.8px;top:1298.6px;width:108.7px;height:48.8px;background:#f9b21c;border:2.5px solid #fbd088;border-radius:2px"></div>
<div class="a" style="left:618.8px;top:1316.2px;width:108.7px;text-align:center;font-size:15.5px;line-height:15.5px;color:#ffffff;letter-spacing:0.80px;text-indent:0.80px;-webkit-text-stroke:0.15px currentColor;">数字界面</div>
<div class="a" style="left:762.3px;top:1209.0px;width:110.2px;height:48.3px;background:#f5908a;border:2.5px solid #f8b4ac;border-radius:2px"></div>
<div class="a" style="left:762.3px;top:1226.3px;width:110.2px;text-align:center;font-size:15.5px;line-height:15.5px;color:#ffffff;letter-spacing:0.80px;text-indent:0.80px;-webkit-text-stroke:0.15px currentColor;">开关电路</div>
<div class="a" style="left:886.4px;top:1209.0px;width:70.2px;height:48.3px;background:#f5908a;border:2.5px solid #f8b4ac;border-radius:2px"></div>
<div class="a" style="left:886.4px;top:1226.3px;width:70.2px;text-align:center;font-size:15.5px;line-height:15.5px;color:#ffffff;letter-spacing:0.40px;text-indent:0.40px;-webkit-text-stroke:0.15px currentColor;">平滑电路</div>
<div class="a" style="left:756.7px;top:1293.0px;width:117.1px;height:58.0px;background:#f9b21c;border:2.5px solid #fbd088;border-radius:2px"></div>
<div class="a" style="left:756.7px;top:1307.9px;width:117.1px;text-align:center;font-size:16.0px;line-height:16.0px;color:#ffffff;letter-spacing:0.30px;text-indent:0.30px;-webkit-text-stroke:0.15px currentColor;">DSP</div>
<div class="a" style="left:756.7px;top:1325.9px;width:117.1px;text-align:center;font-size:14.0px;line-height:14.0px;color:#ffffff;letter-spacing:0.30px;text-indent:0.30px;-webkit-text-stroke:0.15px currentColor;">(数字信号处理器)</div>
<div class="a" style="left:892.0px;top:1297.3px;width:75.6px;height:50.4px;background:#f9b21c;border:2.5px solid #fbd088;border-radius:2px"></div>
<div class="a" style="left:892.0px;top:1304.9px;width:75.6px;text-align:center;font-size:16.0px;line-height:16.0px;color:#ffffff;letter-spacing:0.30px;text-indent:0.30px;-webkit-text-stroke:0.15px currentColor;">A-D</div>
<div class="a" style="left:892.0px;top:1323.4px;width:75.6px;text-align:center;font-size:16.0px;line-height:16.0px;color:#ffffff;letter-spacing:0.30px;text-indent:0.30px;-webkit-text-stroke:0.15px currentColor;">转换器</div>
<div class="a" style="left:950.0px;top:1377.6px;width:71.0px;height:48.8px;background:#4f8da1;border:2.5px solid #8ab6c4;border-radius:2px"></div>
<div class="a" style="left:950.0px;top:1395.2px;width:71.0px;text-align:center;font-size:15.5px;line-height:15.5px;color:#ffffff;letter-spacing:0.20px;text-indent:0.20px;-webkit-text-stroke:0.15px currentColor;">基准电压</div>
<svg class="ov" width="1080" height="1545"><path d="M712.7 1381.8 L876 1381.8 L884 1358.7 L892 1381.8 L926.6 1381.8 Q933.6 1381.8 933.6 1388.8 L933.6 1431 Q933.6 1438 926.6 1438 L712.7 1438 Q705.7 1438 705.7 1431 L705.7 1388.8 Q705.7 1381.8 712.7 1381.8 Z" fill="#fff" stroke="#d3d3d3" stroke-width="2.4"/></svg>
<div class="a" style="left:722.0px;top:1392.4px;font-size:17.0px;line-height:17.0px;color:#747474;letter-spacing:-0.20px;-webkit-text-stroke:0.1px currentColor;">用 A-D 转换器与 DSP 代替</div>
<div class="a" style="left:722.0px;top:1413.4px;font-size:17.0px;line-height:17.0px;color:#747474;letter-spacing:0.20px;-webkit-text-stroke:0.1px currentColor;">模拟控制部分。</div>
<div class="a" style="left:632.4px;top:1382.0px;width:79.3px;height:36.3px;border-radius:9px;background:#ee6c1e;border:4px solid #f9bb88"></div>
<div class="a" style="left:632.4px;top:1389.0px;width:79.3px;text-align:center;font-size:23.0px;line-height:23.0px;color:#ffffff;letter-spacing:1.50px;text-indent:1.50px;-webkit-text-stroke:0.15px currentColor;">要点</div>
</body></html>
